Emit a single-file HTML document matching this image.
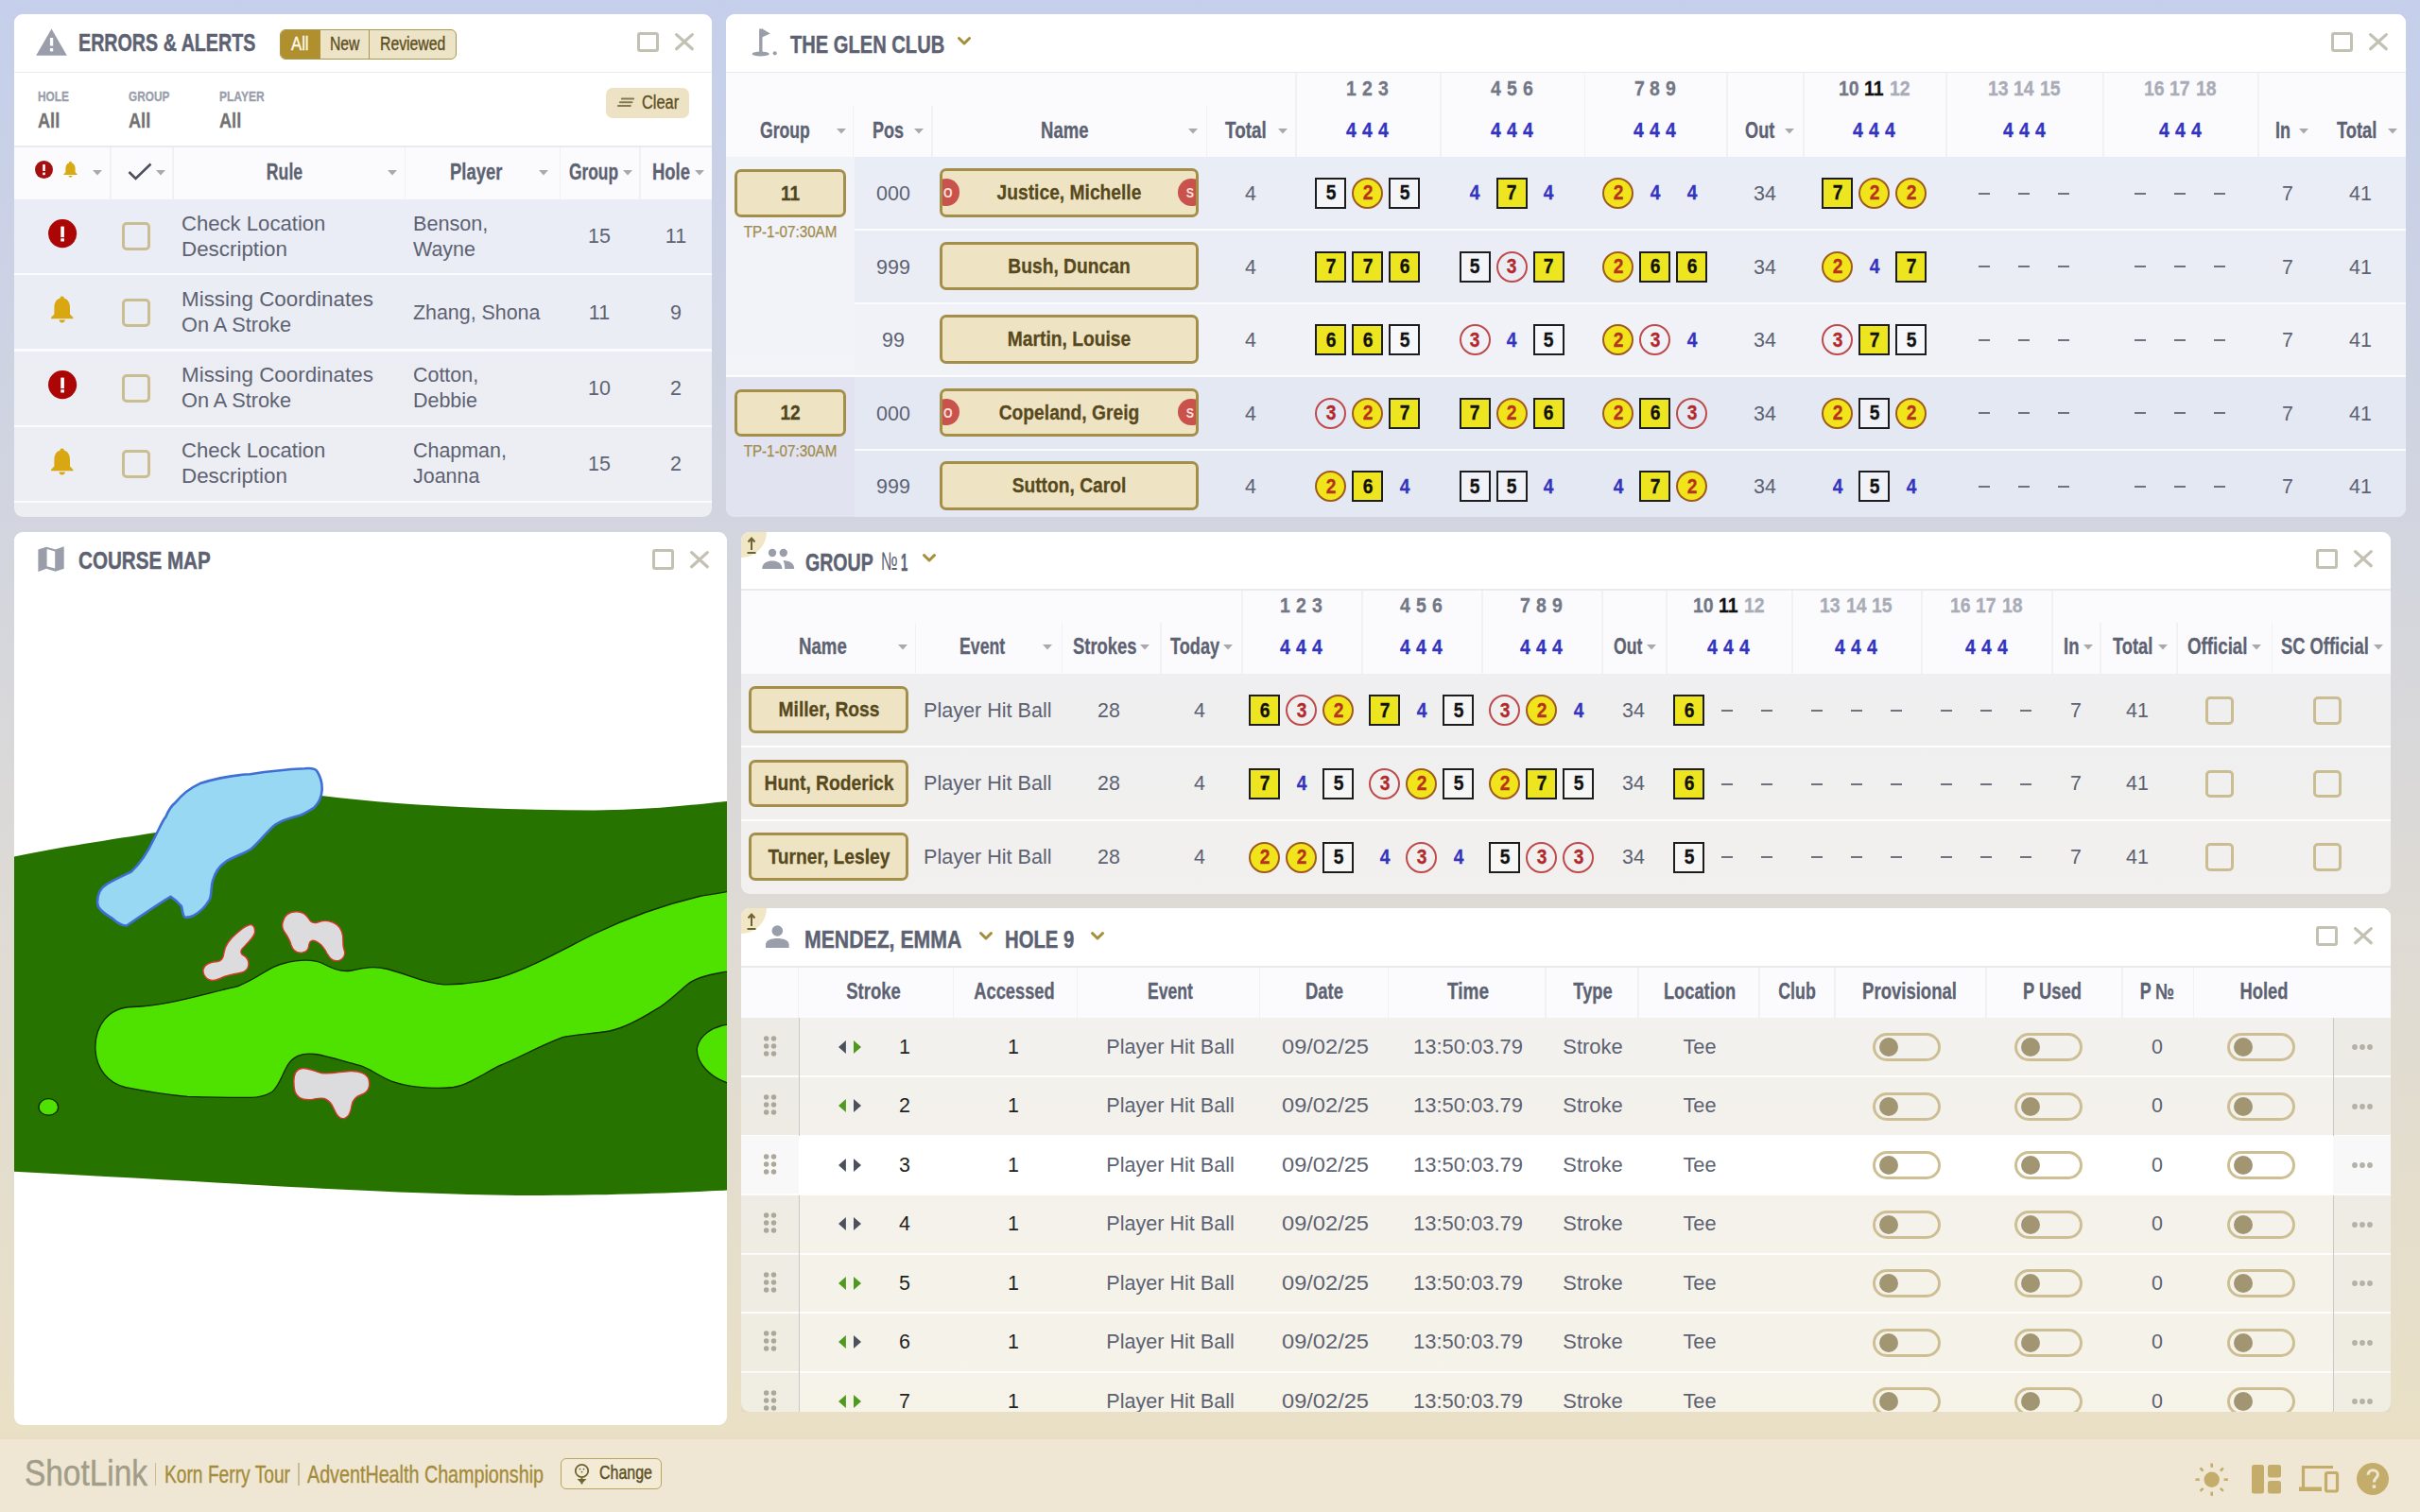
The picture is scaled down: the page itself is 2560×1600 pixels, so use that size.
<!DOCTYPE html>
<html><head><meta charset="utf-8"><title>ShotLink</title>
<style>
html,body{margin:0;padding:0;}
body{width:2560px;height:1600px;position:relative;overflow:hidden;font-family:"Liberation Sans",sans-serif;
background:linear-gradient(180deg,#c5cfeb 0px,#d2d5df 550px,#dfdbd4 1000px,#e9e0c6 1515px);}
.a{position:absolute;}
.t{position:absolute;white-space:nowrap;}
svg{overflow:visible;}
</style></head><body>
<div class="a" style="left:0.00px;top:1523.00px;width:2560.00px;height:77.00px;background:#efe7d3;"></div>
<div class="a" style="left:0.00px;top:1511.00px;width:2560.00px;height:12.00px;background:linear-gradient(180deg,rgba(233,224,198,0),#e9dec3);"></div>
<div class="a" style="left:15.00px;top:15.00px;width:738.00px;height:532.00px;border-radius:9px;background:rgba(255,255,255,0.6);"></div>
<div class="a" style="left:15.00px;top:15.00px;width:738.00px;height:62.00px;border-radius:9px 9px 0 0;background:#fff;"></div>
<div class="a" style="left:15.00px;top:75.50px;width:738.00px;height:2.00px;background:#e9eaee;"></div>
<svg class="a" style="left:37.70px;top:29.80px;" width="33" height="29" viewBox="0 0 33 29"><path d="M16.5 0.5 L32.8 28.7 L0.2 28.7 Z" fill="#9a9eaa"/><rect x="14.9" y="10" width="3.3" height="8.5" fill="#fff"/><rect x="14.9" y="21" width="3.3" height="3.4" fill="#fff"/></svg>
<div class="t" style="left:83.20px;transform-origin:0 0;top:32.40px;font-size:26.00px;line-height:26.00px;font-weight:700;-webkit-text-stroke:0.45px #5d6272;color:#5d6272;transform:scaleX(0.7570);">ERRORS &amp; ALERTS</div>
<div class="a" style="left:296.2px;top:30.6px;width:186.4px;height:32px;box-sizing:border-box;border:1.6px solid #a8974f;border-radius:6px;background:#ede3c6;overflow:hidden;"><div style="position:absolute;left:0;top:0;width:41.7px;height:100%;background:#b0902e;"></div><div style="position:absolute;left:92.6px;top:0;width:1.6px;height:100%;background:#a8974f;"></div></div>
<div class="t" style="left:308.20px;transform-origin:0 0;top:35.84px;font-size:20.30px;line-height:20.30px;color:#fffbe8;transform:scaleX(0.8245);-webkit-text-stroke:0.35px #fffbe8;">All</div>
<div class="t" style="left:348.70px;transform-origin:0 0;top:35.84px;font-size:20.30px;line-height:20.30px;color:#5b4d1e;transform:scaleX(0.7732);-webkit-text-stroke:0.35px #5b4d1e;">New</div>
<div class="t" style="left:402.00px;transform-origin:0 0;top:35.84px;font-size:20.30px;line-height:20.30px;color:#5b4d1e;transform:scaleX(0.7785);-webkit-text-stroke:0.35px #5b4d1e;">Reviewed</div>
<div class="a" style="left:674.30px;top:33.80px;width:22.30px;height:21.60px;border:3.2px solid #c3c1b1;border-radius:3px;box-sizing:border-box;"></div>
<svg class="a" style="left:713.90px;top:35.20px;" width="20" height="18.4" viewBox="0 0 20 18.4"><path d="M1.6 1.6 L18.3 16.8 M18.3 1.6 L1.6 16.8" stroke="#c3c1b1" stroke-width="3.2" stroke-linecap="round"/></svg>
<div class="a" style="left:15.00px;top:77.00px;width:738.00px;height:78.00px;background:#fff;"></div>
<div class="t" style="left:40.20px;transform-origin:0 0;top:94.28px;font-size:15.20px;line-height:15.20px;font-weight:700;-webkit-text-stroke:0.30px #9a9eab;color:#9a9eab;transform:scaleX(0.7816);">HOLE</div>
<div class="t" style="left:40.20px;transform-origin:0 0;top:116.97px;font-size:21.80px;line-height:21.80px;font-weight:700;-webkit-text-stroke:0.30px #717171;color:#717171;transform:scaleX(0.8328);">All</div>
<div class="t" style="left:135.70px;transform-origin:0 0;top:94.28px;font-size:15.20px;line-height:15.20px;font-weight:700;-webkit-text-stroke:0.30px #9a9eab;color:#9a9eab;transform:scaleX(0.7786);">GROUP</div>
<div class="t" style="left:135.70px;transform-origin:0 0;top:116.97px;font-size:21.80px;line-height:21.80px;font-weight:700;-webkit-text-stroke:0.30px #717171;color:#717171;transform:scaleX(0.8328);">All</div>
<div class="t" style="left:231.50px;transform-origin:0 0;top:94.28px;font-size:15.20px;line-height:15.20px;font-weight:700;-webkit-text-stroke:0.30px #9a9eab;color:#9a9eab;transform:scaleX(0.7916);">PLAYER</div>
<div class="t" style="left:231.50px;transform-origin:0 0;top:116.97px;font-size:21.80px;line-height:21.80px;font-weight:700;-webkit-text-stroke:0.30px #717171;color:#717171;transform:scaleX(0.8328);">All</div>
<div class="a" style="left:641.00px;top:93.40px;width:87.60px;height:31.40px;background:#ede3c4;border-radius:7px;"></div>
<svg class="a" style="left:650.00px;top:100.00px;" width="24" height="16" viewBox="0 0 24 16"><path d="M7.9 4.5 H20.1 M5.9 8.2 H18.5 M4 12 H16.8" stroke="#857850" stroke-width="2.1" stroke-linecap="round"/></svg>
<div class="t" style="left:679.30px;transform-origin:0 0;top:99.33px;font-size:19.50px;line-height:19.50px;color:#5c4f22;transform:scaleX(0.8400);-webkit-text-stroke:0.35px #5c4f22;">Clear</div>
<div class="a" style="left:15.00px;top:154.00px;width:738.00px;height:1.50px;background:#e9eaee;"></div>
<div class="a" style="left:15.00px;top:155.50px;width:738.00px;height:55.20px;background:#fbfbfd;"></div>
<div class="a" style="left:116.00px;top:155.50px;width:1.50px;height:55.20px;background:#f1f1f4;"></div>
<div class="a" style="left:182.00px;top:155.50px;width:1.50px;height:55.20px;background:#f1f1f4;"></div>
<div class="a" style="left:427.60px;top:155.50px;width:1.50px;height:55.20px;background:#f1f1f4;"></div>
<div class="a" style="left:591.60px;top:155.50px;width:1.50px;height:55.20px;background:#f1f1f4;"></div>
<div class="a" style="left:676.00px;top:155.50px;width:1.50px;height:55.20px;background:#f1f1f4;"></div>
<svg class="a" style="left:36.50px;top:169.50px;" width="19" height="19" viewBox="0 0 19 19"><circle cx="9.5" cy="9.5" r="9.5" fill="#a50f0f"/><rect x="8.2" y="4" width="2.6" height="7" fill="#fff"/><rect x="8.2" y="12.6" width="2.6" height="2.6" fill="#fff"/></svg>
<svg class="a" style="left:66.50px;top:170.00px;" width="15" height="18" viewBox="0 0 15 18"><path d="M7.5 0.8 C8.6 0.8 9 1.6 9 2.4 C11.6 3.2 12.6 5.5 12.6 8.3 L12.6 12.2 L14.6 14.3 L14.6 15 L0.4 15 L0.4 14.3 L2.4 12.2 L2.4 8.3 C2.4 5.5 3.4 3.2 6 2.4 C6 1.6 6.4 0.8 7.5 0.8 Z M5.6 16 L9.4 16 C9.4 17 8.6 17.6 7.5 17.6 C6.4 17.6 5.6 17 5.6 16 Z" fill="#d8a912"/></svg>
<svg class="a" style="left:97.80px;top:179.60px;" width="10" height="6" viewBox="0 0 10 6"><path d="M0 0 L10 0 L5 5.5 Z" fill="#a9a9ad"/></svg>
<svg class="a" style="left:134.70px;top:172.40px;" width="26" height="19" viewBox="0 0 26 19"><path d="M1.5 10 L8.5 17 L24.5 1.5" fill="none" stroke="#4c505c" stroke-width="2.6"/></svg>
<svg class="a" style="left:164.80px;top:179.60px;" width="10" height="6" viewBox="0 0 10 6"><path d="M0 0 L10 0 L5 5.5 Z" fill="#a9a9ad"/></svg>
<div class="t" style="left:-299.40px;width:1200px;text-align:center;transform-origin:600px 0;top:171.08px;font-size:23.20px;line-height:23.20px;font-weight:700;-webkit-text-stroke:0.30px #5d6272;color:#5d6272;transform:scaleX(0.7618);">Rule</div>
<svg class="a" style="left:409.90px;top:179.60px;" width="10" height="6" viewBox="0 0 10 6"><path d="M0 0 L10 0 L5 5.5 Z" fill="#a9a9ad"/></svg>
<div class="t" style="left:475.90px;transform-origin:0 0;top:171.08px;font-size:23.20px;line-height:23.20px;font-weight:700;-webkit-text-stroke:0.30px #5d6272;color:#5d6272;transform:scaleX(0.7953);">Player</div>
<svg class="a" style="left:570.30px;top:179.60px;" width="10" height="6" viewBox="0 0 10 6"><path d="M0 0 L10 0 L5 5.5 Z" fill="#a9a9ad"/></svg>
<div class="t" style="left:601.90px;transform-origin:0 0;top:171.08px;font-size:23.20px;line-height:23.20px;font-weight:700;-webkit-text-stroke:0.30px #5d6272;color:#5d6272;transform:scaleX(0.7487);">Group</div>
<svg class="a" style="left:659.00px;top:179.60px;" width="10" height="6" viewBox="0 0 10 6"><path d="M0 0 L10 0 L5 5.5 Z" fill="#a9a9ad"/></svg>
<div class="t" style="left:690.30px;transform-origin:0 0;top:171.08px;font-size:23.20px;line-height:23.20px;font-weight:700;-webkit-text-stroke:0.30px #5d6272;color:#5d6272;transform:scaleX(0.7936);">Hole</div>
<svg class="a" style="left:735.20px;top:179.60px;" width="10" height="6" viewBox="0 0 10 6"><path d="M0 0 L10 0 L5 5.5 Z" fill="#a9a9ad"/></svg>
<div class="a" style="left:15.00px;top:289.15px;width:738.00px;height:2.20px;background:#fbfcff;"></div>
<svg class="a" style="left:51.00px;top:231.60px;" width="30.2" height="30.2" viewBox="0 0 30.2 30.2"><circle cx="15.1" cy="15.1" r="15.1" fill="#ab0505"/><rect x="13.3" y="7.6" width="3.6" height="11.5" fill="#fff"/><rect x="13.3" y="20.3" width="3.6" height="3.2" fill="#fff"/></svg>
<div class="a" style="left:129.00px;top:235.32px;width:30.00px;height:30.00px;border:3px solid #cbbd92;border-radius:5px;box-sizing:border-box;"></div>
<div class="t" style="left:192.40px;transform-origin:0 0;top:224.62px;font-size:22.80px;line-height:22.80px;color:#5d6272;transform:scaleX(0.9697);">Check Location</div>
<div class="t" style="left:192.40px;transform-origin:0 0;top:251.62px;font-size:22.80px;line-height:22.80px;color:#5d6272;transform:scaleX(0.9812);">Description</div>
<div class="t" style="left:437.00px;transform-origin:0 0;top:224.62px;font-size:22.80px;line-height:22.80px;color:#5d6272;transform:scaleX(0.9490);">Benson,</div>
<div class="t" style="left:437.00px;transform-origin:0 0;top:251.62px;font-size:22.80px;line-height:22.80px;color:#5d6272;transform:scaleX(0.9400);">Wayne</div>
<div class="t" style="left:34.00px;width:1200px;text-align:center;transform-origin:600px 0;top:238.42px;font-size:22.80px;line-height:22.80px;color:#5d6272;transform:scaleX(0.9400);">15</div>
<div class="t" style="left:114.70px;width:1200px;text-align:center;transform-origin:600px 0;top:238.42px;font-size:22.80px;line-height:22.80px;color:#5d6272;transform:scaleX(0.9400);">11</div>
<div class="a" style="left:15.00px;top:369.40px;width:738.00px;height:2.20px;background:#fbfcff;"></div>
<svg class="a" style="left:53.40px;top:313.15px;" width="25.4" height="29.4" viewBox="0 0 25.4 29.4"><path d="M12.7 0.5 C14.3 0.5 15 1.6 15 2.8 C19.2 4 21 7.8 21 12.5 L21 19.5 L24.4 23 L24.4 24.2 L1 24.2 L1 23 L4.4 19.5 L4.4 12.5 C4.4 7.8 6.2 4 10.4 2.8 C10.4 1.6 11.1 0.5 12.7 0.5 Z M9.6 25.6 L15.8 25.6 C15.8 27.4 14.5 28.6 12.7 28.6 C10.9 28.6 9.6 27.4 9.6 25.6 Z" fill="#d8a711"/></svg>
<div class="a" style="left:129.00px;top:315.57px;width:30.00px;height:30.00px;border:3px solid #cbbd92;border-radius:5px;box-sizing:border-box;"></div>
<div class="t" style="left:192.40px;transform-origin:0 0;top:304.87px;font-size:22.80px;line-height:22.80px;color:#5d6272;transform:scaleX(0.9823);">Missing Coordinates</div>
<div class="t" style="left:192.40px;transform-origin:0 0;top:331.87px;font-size:22.80px;line-height:22.80px;color:#5d6272;transform:scaleX(0.9534);">On A Stroke</div>
<div class="t" style="left:437.00px;transform-origin:0 0;top:318.67px;font-size:22.80px;line-height:22.80px;color:#5d6272;transform:scaleX(0.9382);">Zhang, Shona</div>
<div class="t" style="left:34.00px;width:1200px;text-align:center;transform-origin:600px 0;top:318.67px;font-size:22.80px;line-height:22.80px;color:#5d6272;transform:scaleX(0.9400);">11</div>
<div class="t" style="left:114.70px;width:1200px;text-align:center;transform-origin:600px 0;top:318.67px;font-size:22.80px;line-height:22.80px;color:#5d6272;transform:scaleX(0.9400);">9</div>
<div class="a" style="left:15.00px;top:449.65px;width:738.00px;height:2.20px;background:#fbfcff;"></div>
<svg class="a" style="left:51.00px;top:392.10px;" width="30.2" height="30.2" viewBox="0 0 30.2 30.2"><circle cx="15.1" cy="15.1" r="15.1" fill="#ab0505"/><rect x="13.3" y="7.6" width="3.6" height="11.5" fill="#fff"/><rect x="13.3" y="20.3" width="3.6" height="3.2" fill="#fff"/></svg>
<div class="a" style="left:129.00px;top:395.82px;width:30.00px;height:30.00px;border:3px solid #cbbd92;border-radius:5px;box-sizing:border-box;"></div>
<div class="t" style="left:192.40px;transform-origin:0 0;top:385.12px;font-size:22.80px;line-height:22.80px;color:#5d6272;transform:scaleX(0.9823);">Missing Coordinates</div>
<div class="t" style="left:192.40px;transform-origin:0 0;top:412.12px;font-size:22.80px;line-height:22.80px;color:#5d6272;transform:scaleX(0.9534);">On A Stroke</div>
<div class="t" style="left:437.00px;transform-origin:0 0;top:385.12px;font-size:22.80px;line-height:22.80px;color:#5d6272;transform:scaleX(0.9400);">Cotton,</div>
<div class="t" style="left:437.00px;transform-origin:0 0;top:412.12px;font-size:22.80px;line-height:22.80px;color:#5d6272;transform:scaleX(0.9400);">Debbie</div>
<div class="t" style="left:34.00px;width:1200px;text-align:center;transform-origin:600px 0;top:398.92px;font-size:22.80px;line-height:22.80px;color:#5d6272;transform:scaleX(0.9400);">10</div>
<div class="t" style="left:114.70px;width:1200px;text-align:center;transform-origin:600px 0;top:398.92px;font-size:22.80px;line-height:22.80px;color:#5d6272;transform:scaleX(0.9400);">2</div>
<div class="a" style="left:15.00px;top:529.90px;width:738.00px;height:2.20px;background:#fbfcff;"></div>
<svg class="a" style="left:53.40px;top:473.65px;" width="25.4" height="29.4" viewBox="0 0 25.4 29.4"><path d="M12.7 0.5 C14.3 0.5 15 1.6 15 2.8 C19.2 4 21 7.8 21 12.5 L21 19.5 L24.4 23 L24.4 24.2 L1 24.2 L1 23 L4.4 19.5 L4.4 12.5 C4.4 7.8 6.2 4 10.4 2.8 C10.4 1.6 11.1 0.5 12.7 0.5 Z M9.6 25.6 L15.8 25.6 C15.8 27.4 14.5 28.6 12.7 28.6 C10.9 28.6 9.6 27.4 9.6 25.6 Z" fill="#d8a711"/></svg>
<div class="a" style="left:129.00px;top:476.07px;width:30.00px;height:30.00px;border:3px solid #cbbd92;border-radius:5px;box-sizing:border-box;"></div>
<div class="t" style="left:192.40px;transform-origin:0 0;top:465.37px;font-size:22.80px;line-height:22.80px;color:#5d6272;transform:scaleX(0.9697);">Check Location</div>
<div class="t" style="left:192.40px;transform-origin:0 0;top:492.37px;font-size:22.80px;line-height:22.80px;color:#5d6272;transform:scaleX(0.9812);">Description</div>
<div class="t" style="left:437.00px;transform-origin:0 0;top:465.37px;font-size:22.80px;line-height:22.80px;color:#5d6272;transform:scaleX(0.9400);">Chapman,</div>
<div class="t" style="left:437.00px;transform-origin:0 0;top:492.37px;font-size:22.80px;line-height:22.80px;color:#5d6272;transform:scaleX(0.9400);">Joanna</div>
<div class="t" style="left:34.00px;width:1200px;text-align:center;transform-origin:600px 0;top:479.17px;font-size:22.80px;line-height:22.80px;color:#5d6272;transform:scaleX(0.9400);">15</div>
<div class="t" style="left:114.70px;width:1200px;text-align:center;transform-origin:600px 0;top:479.17px;font-size:22.80px;line-height:22.80px;color:#5d6272;transform:scaleX(0.9400);">2</div>
<div class="a" style="left:768.00px;top:15.00px;width:1777.00px;height:532.00px;border-radius:9px;background:rgba(255,255,255,0.6);"></div>
<div class="a" style="left:768.00px;top:15.00px;width:1777.00px;height:62.00px;border-radius:9px 9px 0 0;background:#fff;"></div>
<div class="a" style="left:768.00px;top:75.50px;width:1777.00px;height:2.00px;background:#e9eaee;"></div>
<svg class="a" style="left:795.70px;top:30.40px;" width="26" height="30" viewBox="0 0 26 30"><path d="M8.8 0.5 L8.8 26" stroke="#9a9eaa" stroke-width="3.4"/><path d="M10 0.3 L18.8 5.6 L10 9.4 Z" fill="#9a9eaa"/><ellipse cx="8.7" cy="27" rx="9.1" ry="2.6" fill="#9a9eaa"/><circle cx="23.7" cy="26.3" r="2.1" fill="#9a9eaa"/></svg>
<div class="t" style="left:836.20px;transform-origin:0 0;top:34.20px;font-size:26.00px;line-height:26.00px;font-weight:700;-webkit-text-stroke:0.45px #5d6272;color:#5d6272;transform:scaleX(0.7739);">THE GLEN CLUB</div>
<svg class="a" style="left:1012.60px;top:39.00px;" width="14" height="9" viewBox="0 0 14 9"><path d="M1.5 1.5 L7 7 L12.5 1.5" fill="none" stroke="#a48e3c" stroke-width="3" stroke-linecap="round" stroke-linejoin="round"/></svg>
<div class="a" style="left:2466.30px;top:33.80px;width:22.30px;height:21.60px;border:3.2px solid #c3c1b1;border-radius:3px;box-sizing:border-box;"></div>
<svg class="a" style="left:2505.90px;top:35.20px;" width="20" height="18.4" viewBox="0 0 20 18.4"><path d="M1.6 1.6 L18.3 16.8 M18.3 1.6 L1.6 16.8" stroke="#c3c1b1" stroke-width="3.2" stroke-linecap="round"/></svg>
<div class="a" style="left:768.00px;top:77.00px;width:1777.00px;height:89.00px;background:#fbfbfd;"></div>
<div class="a" style="left:901.50px;top:112.00px;width:1.50px;height:54.00px;background:#f1f1f4;"></div>
<div class="a" style="left:985.00px;top:112.00px;width:1.50px;height:54.00px;background:#f1f1f4;"></div>
<div class="a" style="left:1275.90px;top:112.00px;width:1.50px;height:54.00px;background:#f1f1f4;"></div>
<div class="a" style="left:1370.00px;top:77.00px;width:1.50px;height:89.00px;background:#f1f1f4;"></div>
<div class="a" style="left:1523.00px;top:77.00px;width:1.50px;height:89.00px;background:#f1f1f4;"></div>
<div class="a" style="left:1675.50px;top:77.00px;width:1.50px;height:89.00px;background:#f1f1f4;"></div>
<div class="a" style="left:1826.00px;top:77.00px;width:1.50px;height:89.00px;background:#f1f1f4;"></div>
<div class="a" style="left:1907.00px;top:77.00px;width:1.50px;height:89.00px;background:#f1f1f4;"></div>
<div class="a" style="left:2058.00px;top:77.00px;width:1.50px;height:89.00px;background:#f1f1f4;"></div>
<div class="a" style="left:2224.00px;top:77.00px;width:1.50px;height:89.00px;background:#f1f1f4;"></div>
<div class="a" style="left:2388.00px;top:77.00px;width:1.50px;height:89.00px;background:#f1f1f4;"></div>
<div class="t" style="left:803.70px;transform-origin:0 0;top:126.78px;font-size:23.20px;line-height:23.20px;font-weight:700;-webkit-text-stroke:0.30px #5d6272;color:#5d6272;transform:scaleX(0.7602);">Group</div>
<svg class="a" style="left:884.60px;top:135.50px;" width="10" height="6" viewBox="0 0 10 6"><path d="M0 0 L10 0 L5 5.5 Z" fill="#a9a9ad"/></svg>
<div class="t" style="left:922.70px;transform-origin:0 0;top:126.78px;font-size:23.20px;line-height:23.20px;font-weight:700;-webkit-text-stroke:0.30px #5d6272;color:#5d6272;transform:scaleX(0.7779);">Pos</div>
<svg class="a" style="left:967.20px;top:135.50px;" width="10" height="6" viewBox="0 0 10 6"><path d="M0 0 L10 0 L5 5.5 Z" fill="#a9a9ad"/></svg>
<div class="t" style="left:1100.50px;transform-origin:0 0;top:126.78px;font-size:23.20px;line-height:23.20px;font-weight:700;-webkit-text-stroke:0.30px #5d6272;color:#5d6272;transform:scaleX(0.7992);">Name</div>
<svg class="a" style="left:1257.00px;top:135.50px;" width="10" height="6" viewBox="0 0 10 6"><path d="M0 0 L10 0 L5 5.5 Z" fill="#a9a9ad"/></svg>
<div class="t" style="left:1295.70px;transform-origin:0 0;top:126.78px;font-size:23.20px;line-height:23.20px;font-weight:700;-webkit-text-stroke:0.30px #5d6272;color:#5d6272;transform:scaleX(0.8138);">Total</div>
<svg class="a" style="left:1351.60px;top:135.50px;" width="10" height="6" viewBox="0 0 10 6"><path d="M0 0 L10 0 L5 5.5 Z" fill="#a9a9ad"/></svg>
<div class="t" style="left:1846.00px;transform-origin:0 0;top:126.78px;font-size:23.20px;line-height:23.20px;font-weight:700;-webkit-text-stroke:0.30px #5d6272;color:#5d6272;transform:scaleX(0.7836);">Out</div>
<svg class="a" style="left:1888.00px;top:135.50px;" width="10" height="6" viewBox="0 0 10 6"><path d="M0 0 L10 0 L5 5.5 Z" fill="#a9a9ad"/></svg>
<div class="t" style="left:2407.00px;transform-origin:0 0;top:126.78px;font-size:23.20px;line-height:23.20px;font-weight:700;-webkit-text-stroke:0.30px #5d6272;color:#5d6272;transform:scaleX(0.7761);">In</div>
<svg class="a" style="left:2432.00px;top:135.50px;" width="10" height="6" viewBox="0 0 10 6"><path d="M0 0 L10 0 L5 5.5 Z" fill="#a9a9ad"/></svg>
<div class="t" style="left:2471.60px;transform-origin:0 0;top:126.78px;font-size:23.20px;line-height:23.20px;font-weight:700;-webkit-text-stroke:0.30px #5d6272;color:#5d6272;transform:scaleX(0.7896);">Total</div>
<svg class="a" style="left:2526.00px;top:135.50px;" width="10" height="6" viewBox="0 0 10 6"><path d="M0 0 L10 0 L5 5.5 Z" fill="#a9a9ad"/></svg>
<div class="t" style="left:1424.28px;transform-origin:0 0;top:83.44px;font-size:21.60px;line-height:21.60px;font-weight:700;-webkit-text-stroke:0.30px #737785;color:#737785;transform:scaleX(0.9000);">1</div>
<div class="t" style="left:1441.09px;transform-origin:0 0;top:83.44px;font-size:21.60px;line-height:21.60px;font-weight:700;-webkit-text-stroke:0.30px #737785;color:#737785;transform:scaleX(0.9000);">2</div>
<div class="t" style="left:1457.91px;transform-origin:0 0;top:83.44px;font-size:21.60px;line-height:21.60px;font-weight:700;-webkit-text-stroke:0.30px #737785;color:#737785;transform:scaleX(0.9000);">3</div>
<div class="t" style="left:1424.05px;transform-origin:0 0;top:127.30px;font-size:22.00px;line-height:22.00px;font-weight:700;-webkit-text-stroke:0.30px #3333bd;color:#3333bd;transform:scaleX(0.8800);">4</div>
<div class="t" style="left:1441.12px;transform-origin:0 0;top:127.30px;font-size:22.00px;line-height:22.00px;font-weight:700;-webkit-text-stroke:0.30px #3333bd;color:#3333bd;transform:scaleX(0.8800);">4</div>
<div class="t" style="left:1458.18px;transform-origin:0 0;top:127.30px;font-size:22.00px;line-height:22.00px;font-weight:700;-webkit-text-stroke:0.30px #3333bd;color:#3333bd;transform:scaleX(0.8800);">4</div>
<div class="t" style="left:1576.98px;transform-origin:0 0;top:83.44px;font-size:21.60px;line-height:21.60px;font-weight:700;-webkit-text-stroke:0.30px #737785;color:#737785;transform:scaleX(0.9000);">4</div>
<div class="t" style="left:1593.79px;transform-origin:0 0;top:83.44px;font-size:21.60px;line-height:21.60px;font-weight:700;-webkit-text-stroke:0.30px #737785;color:#737785;transform:scaleX(0.9000);">5</div>
<div class="t" style="left:1610.61px;transform-origin:0 0;top:83.44px;font-size:21.60px;line-height:21.60px;font-weight:700;-webkit-text-stroke:0.30px #737785;color:#737785;transform:scaleX(0.9000);">6</div>
<div class="t" style="left:1576.75px;transform-origin:0 0;top:127.30px;font-size:22.00px;line-height:22.00px;font-weight:700;-webkit-text-stroke:0.30px #3333bd;color:#3333bd;transform:scaleX(0.8800);">4</div>
<div class="t" style="left:1593.82px;transform-origin:0 0;top:127.30px;font-size:22.00px;line-height:22.00px;font-weight:700;-webkit-text-stroke:0.30px #3333bd;color:#3333bd;transform:scaleX(0.8800);">4</div>
<div class="t" style="left:1610.88px;transform-origin:0 0;top:127.30px;font-size:22.00px;line-height:22.00px;font-weight:700;-webkit-text-stroke:0.30px #3333bd;color:#3333bd;transform:scaleX(0.8800);">4</div>
<div class="t" style="left:1728.58px;transform-origin:0 0;top:83.44px;font-size:21.60px;line-height:21.60px;font-weight:700;-webkit-text-stroke:0.30px #737785;color:#737785;transform:scaleX(0.9000);">7</div>
<div class="t" style="left:1745.39px;transform-origin:0 0;top:83.44px;font-size:21.60px;line-height:21.60px;font-weight:700;-webkit-text-stroke:0.30px #737785;color:#737785;transform:scaleX(0.9000);">8</div>
<div class="t" style="left:1762.21px;transform-origin:0 0;top:83.44px;font-size:21.60px;line-height:21.60px;font-weight:700;-webkit-text-stroke:0.30px #737785;color:#737785;transform:scaleX(0.9000);">9</div>
<div class="t" style="left:1728.35px;transform-origin:0 0;top:127.30px;font-size:22.00px;line-height:22.00px;font-weight:700;-webkit-text-stroke:0.30px #3333bd;color:#3333bd;transform:scaleX(0.8800);">4</div>
<div class="t" style="left:1745.42px;transform-origin:0 0;top:127.30px;font-size:22.00px;line-height:22.00px;font-weight:700;-webkit-text-stroke:0.30px #3333bd;color:#3333bd;transform:scaleX(0.8800);">4</div>
<div class="t" style="left:1762.48px;transform-origin:0 0;top:127.30px;font-size:22.00px;line-height:22.00px;font-weight:700;-webkit-text-stroke:0.30px #3333bd;color:#3333bd;transform:scaleX(0.8800);">4</div>
<div class="t" style="left:1944.60px;transform-origin:0 0;top:83.44px;font-size:21.60px;line-height:21.60px;font-weight:700;-webkit-text-stroke:0.30px #737785;color:#737785;transform:scaleX(0.9000);">10</div>
<div class="t" style="left:1972.22px;transform-origin:0 0;top:83.44px;font-size:21.60px;line-height:21.60px;font-weight:700;-webkit-text-stroke:0.30px #111;color:#111;transform:scaleX(0.9000);">11</div>
<div class="t" style="left:1998.78px;transform-origin:0 0;top:83.44px;font-size:21.60px;line-height:21.60px;font-weight:700;-webkit-text-stroke:0.30px #a9acb6;color:#a9acb6;transform:scaleX(0.9000);">12</div>
<div class="t" style="left:1960.05px;transform-origin:0 0;top:127.30px;font-size:22.00px;line-height:22.00px;font-weight:700;-webkit-text-stroke:0.30px #3333bd;color:#3333bd;transform:scaleX(0.8800);">4</div>
<div class="t" style="left:1977.12px;transform-origin:0 0;top:127.30px;font-size:22.00px;line-height:22.00px;font-weight:700;-webkit-text-stroke:0.30px #3333bd;color:#3333bd;transform:scaleX(0.8800);">4</div>
<div class="t" style="left:1994.18px;transform-origin:0 0;top:127.30px;font-size:22.00px;line-height:22.00px;font-weight:700;-webkit-text-stroke:0.30px #3333bd;color:#3333bd;transform:scaleX(0.8800);">4</div>
<div class="t" style="left:2102.56px;transform-origin:0 0;top:83.44px;font-size:21.60px;line-height:21.60px;font-weight:700;-webkit-text-stroke:0.30px #a9acb6;color:#a9acb6;transform:scaleX(0.9000);">13</div>
<div class="t" style="left:2130.19px;transform-origin:0 0;top:83.44px;font-size:21.60px;line-height:21.60px;font-weight:700;-webkit-text-stroke:0.30px #a9acb6;color:#a9acb6;transform:scaleX(0.9000);">14</div>
<div class="t" style="left:2157.81px;transform-origin:0 0;top:83.44px;font-size:21.60px;line-height:21.60px;font-weight:700;-webkit-text-stroke:0.30px #a9acb6;color:#a9acb6;transform:scaleX(0.9000);">15</div>
<div class="t" style="left:2118.55px;transform-origin:0 0;top:127.30px;font-size:22.00px;line-height:22.00px;font-weight:700;-webkit-text-stroke:0.30px #3333bd;color:#3333bd;transform:scaleX(0.8800);">4</div>
<div class="t" style="left:2135.62px;transform-origin:0 0;top:127.30px;font-size:22.00px;line-height:22.00px;font-weight:700;-webkit-text-stroke:0.30px #3333bd;color:#3333bd;transform:scaleX(0.8800);">4</div>
<div class="t" style="left:2152.68px;transform-origin:0 0;top:127.30px;font-size:22.00px;line-height:22.00px;font-weight:700;-webkit-text-stroke:0.30px #3333bd;color:#3333bd;transform:scaleX(0.8800);">4</div>
<div class="t" style="left:2267.56px;transform-origin:0 0;top:83.44px;font-size:21.60px;line-height:21.60px;font-weight:700;-webkit-text-stroke:0.30px #a9acb6;color:#a9acb6;transform:scaleX(0.9000);">16</div>
<div class="t" style="left:2295.19px;transform-origin:0 0;top:83.44px;font-size:21.60px;line-height:21.60px;font-weight:700;-webkit-text-stroke:0.30px #a9acb6;color:#a9acb6;transform:scaleX(0.9000);">17</div>
<div class="t" style="left:2322.81px;transform-origin:0 0;top:83.44px;font-size:21.60px;line-height:21.60px;font-weight:700;-webkit-text-stroke:0.30px #a9acb6;color:#a9acb6;transform:scaleX(0.9000);">18</div>
<div class="t" style="left:2283.55px;transform-origin:0 0;top:127.30px;font-size:22.00px;line-height:22.00px;font-weight:700;-webkit-text-stroke:0.30px #3333bd;color:#3333bd;transform:scaleX(0.8800);">4</div>
<div class="t" style="left:2300.62px;transform-origin:0 0;top:127.30px;font-size:22.00px;line-height:22.00px;font-weight:700;-webkit-text-stroke:0.30px #3333bd;color:#3333bd;transform:scaleX(0.8800);">4</div>
<div class="t" style="left:2317.68px;transform-origin:0 0;top:127.30px;font-size:22.00px;line-height:22.00px;font-weight:700;-webkit-text-stroke:0.30px #3333bd;color:#3333bd;transform:scaleX(0.8800);">4</div>
<div class="a" style="left:768.00px;top:166.00px;width:136.00px;height:231.50px;background:rgba(255,255,255,0.35);"></div>
<div class="a" style="left:904.00px;top:320.50px;width:1641.00px;height:77.00px;background:rgba(255,255,255,0.30);"></div>
<div class="a" style="left:904.00px;top:398.50px;width:1641.00px;height:148.50px;background:#e4e8f3;border-radius:0 0 9px 0;"></div>
<div class="a" style="left:768.00px;top:398.50px;width:136.00px;height:148.50px;background:#e1e4f0;border-radius:0 0 0 9px;"></div>
<div class="a" style="left:904.00px;top:242.00px;width:1641.00px;height:2.20px;background:#fbfcff;"></div>
<div class="t" style="left:345.00px;width:1200px;text-align:center;transform-origin:600px 0;top:193.37px;font-size:22.80px;line-height:22.80px;color:#5d6272;transform:scaleX(0.9400);">000</div>
<div class="a" style="left:993.70px;top:178.20px;width:274.30px;height:51.60px;box-sizing:border-box;border:3px solid #a48f4a;border-radius:7px;background:#eee4c4;overflow:hidden;"><div style="position:absolute;left:-10px;top:8px;width:28.5px;height:28.5px;border-radius:50%;background:#c9524c;"></div><div class="t" style="left:1.6px;top:15.1px;font-size:15px;line-height:15px;font-weight:700;color:#ffe0da;transform:scaleX(0.82);transform-origin:0 0">O</div><div style="position:absolute;right:-10px;top:8px;width:28.5px;height:28.5px;border-radius:50%;background:#c9524c;"></div><div class="t" style="right:2.2px;top:15.1px;font-size:15px;line-height:15px;font-weight:700;color:#ffe0da;transform:scaleX(0.82);transform-origin:100% 0">S</div></div>
<div class="t" style="left:530.85px;width:1200px;text-align:center;transform-origin:600px 0;top:192.13px;font-size:22.90px;line-height:22.90px;font-weight:700;-webkit-text-stroke:0.30px #57491c;color:#57491c;transform:scaleX(0.8400);">Justice, Michelle</div>
<div class="t" style="left:723.00px;width:1200px;text-align:center;transform-origin:600px 0;top:193.37px;font-size:22.80px;line-height:22.80px;color:#5d6272;transform:scaleX(0.9400);">4</div>
<div class="a" style="left:1391.00px;top:188.25px;width:33.00px;height:33.00px;border:2px solid #1d1d1f;background:rgba(255,255,255,.45);box-sizing:border-box;"></div>
<div class="t" style="left:807.50px;width:1200px;text-align:center;transform-origin:600px 0;top:193.49px;font-size:22.30px;line-height:22.30px;font-weight:700;-webkit-text-stroke:0.30px #111;color:#111;transform:scaleX(0.8600);">5</div>
<div class="a" style="left:1430.00px;top:188.25px;width:33.00px;height:33.00px;border:2px solid #9f5a20;background:#f1e41b;border-radius:50%;box-sizing:border-box;"></div>
<div class="t" style="left:846.50px;width:1200px;text-align:center;transform-origin:600px 0;top:193.49px;font-size:22.30px;line-height:22.30px;font-weight:700;-webkit-text-stroke:0.30px #b5331f;color:#b5331f;transform:scaleX(0.8600);">2</div>
<div class="a" style="left:1469.00px;top:188.25px;width:33.00px;height:33.00px;border:2px solid #1d1d1f;background:rgba(255,255,255,.45);box-sizing:border-box;"></div>
<div class="t" style="left:885.50px;width:1200px;text-align:center;transform-origin:600px 0;top:193.49px;font-size:22.30px;line-height:22.30px;font-weight:700;-webkit-text-stroke:0.30px #111;color:#111;transform:scaleX(0.8600);">5</div>
<div class="t" style="left:960.20px;width:1200px;text-align:center;transform-origin:600px 0;top:193.49px;font-size:22.30px;line-height:22.30px;font-weight:700;-webkit-text-stroke:0.30px #3333bd;color:#3333bd;transform:scaleX(0.8600);">4</div>
<div class="a" style="left:1582.70px;top:188.25px;width:33.00px;height:33.00px;border:2px solid #1d1d1f;background:#ece51f;box-sizing:border-box;"></div>
<div class="t" style="left:999.20px;width:1200px;text-align:center;transform-origin:600px 0;top:193.49px;font-size:22.30px;line-height:22.30px;font-weight:700;-webkit-text-stroke:0.30px #111;color:#111;transform:scaleX(0.8600);">7</div>
<div class="t" style="left:1038.20px;width:1200px;text-align:center;transform-origin:600px 0;top:193.49px;font-size:22.30px;line-height:22.30px;font-weight:700;-webkit-text-stroke:0.30px #3333bd;color:#3333bd;transform:scaleX(0.8600);">4</div>
<div class="a" style="left:1695.30px;top:188.25px;width:33.00px;height:33.00px;border:2px solid #9f5a20;background:#f1e41b;border-radius:50%;box-sizing:border-box;"></div>
<div class="t" style="left:1111.80px;width:1200px;text-align:center;transform-origin:600px 0;top:193.49px;font-size:22.30px;line-height:22.30px;font-weight:700;-webkit-text-stroke:0.30px #b5331f;color:#b5331f;transform:scaleX(0.8600);">2</div>
<div class="t" style="left:1150.80px;width:1200px;text-align:center;transform-origin:600px 0;top:193.49px;font-size:22.30px;line-height:22.30px;font-weight:700;-webkit-text-stroke:0.30px #3333bd;color:#3333bd;transform:scaleX(0.8600);">4</div>
<div class="t" style="left:1189.80px;width:1200px;text-align:center;transform-origin:600px 0;top:193.49px;font-size:22.30px;line-height:22.30px;font-weight:700;-webkit-text-stroke:0.30px #3333bd;color:#3333bd;transform:scaleX(0.8600);">4</div>
<div class="a" style="left:1927.00px;top:188.25px;width:33.00px;height:33.00px;border:2px solid #1d1d1f;background:#ece51f;box-sizing:border-box;"></div>
<div class="t" style="left:1343.50px;width:1200px;text-align:center;transform-origin:600px 0;top:193.49px;font-size:22.30px;line-height:22.30px;font-weight:700;-webkit-text-stroke:0.30px #111;color:#111;transform:scaleX(0.8600);">7</div>
<div class="a" style="left:1966.00px;top:188.25px;width:33.00px;height:33.00px;border:2px solid #9f5a20;background:#f1e41b;border-radius:50%;box-sizing:border-box;"></div>
<div class="t" style="left:1382.50px;width:1200px;text-align:center;transform-origin:600px 0;top:193.49px;font-size:22.30px;line-height:22.30px;font-weight:700;-webkit-text-stroke:0.30px #b5331f;color:#b5331f;transform:scaleX(0.8600);">2</div>
<div class="a" style="left:2005.00px;top:188.25px;width:33.00px;height:33.00px;border:2px solid #9f5a20;background:#f1e41b;border-radius:50%;box-sizing:border-box;"></div>
<div class="t" style="left:1421.50px;width:1200px;text-align:center;transform-origin:600px 0;top:193.49px;font-size:22.30px;line-height:22.30px;font-weight:700;-webkit-text-stroke:0.30px #b5331f;color:#b5331f;transform:scaleX(0.8600);">2</div>
<div class="a" style="left:2093.00px;top:204.00px;width:12.00px;height:2.00px;background:#6f7380;"></div>
<div class="a" style="left:2135.00px;top:204.00px;width:12.00px;height:2.00px;background:#6f7380;"></div>
<div class="a" style="left:2177.00px;top:204.00px;width:12.00px;height:2.00px;background:#6f7380;"></div>
<div class="a" style="left:2258.00px;top:204.00px;width:12.00px;height:2.00px;background:#6f7380;"></div>
<div class="a" style="left:2300.00px;top:204.00px;width:12.00px;height:2.00px;background:#6f7380;"></div>
<div class="a" style="left:2342.00px;top:204.00px;width:12.00px;height:2.00px;background:#6f7380;"></div>
<div class="t" style="left:1267.00px;width:1200px;text-align:center;transform-origin:600px 0;top:193.37px;font-size:22.80px;line-height:22.80px;color:#5d6272;transform:scaleX(0.9400);">34</div>
<div class="t" style="left:1819.50px;width:1200px;text-align:center;transform-origin:600px 0;top:193.37px;font-size:22.80px;line-height:22.80px;color:#5d6272;transform:scaleX(0.9400);">7</div>
<div class="t" style="left:1896.70px;width:1200px;text-align:center;transform-origin:600px 0;top:193.37px;font-size:22.80px;line-height:22.80px;color:#5d6272;transform:scaleX(0.9400);">41</div>
<div class="a" style="left:904.00px;top:319.50px;width:1641.00px;height:2.20px;background:#fbfcff;"></div>
<div class="t" style="left:345.00px;width:1200px;text-align:center;transform-origin:600px 0;top:270.87px;font-size:22.80px;line-height:22.80px;color:#5d6272;transform:scaleX(0.9400);">999</div>
<div class="a" style="left:993.70px;top:255.70px;width:274.30px;height:51.60px;box-sizing:border-box;border:3px solid #a48f4a;border-radius:7px;background:#eee4c4;overflow:hidden;"></div>
<div class="t" style="left:530.85px;width:1200px;text-align:center;transform-origin:600px 0;top:269.64px;font-size:22.90px;line-height:22.90px;font-weight:700;-webkit-text-stroke:0.30px #57491c;color:#57491c;transform:scaleX(0.8400);">Bush, Duncan</div>
<div class="t" style="left:723.00px;width:1200px;text-align:center;transform-origin:600px 0;top:270.87px;font-size:22.80px;line-height:22.80px;color:#5d6272;transform:scaleX(0.9400);">4</div>
<div class="a" style="left:1391.00px;top:265.75px;width:33.00px;height:33.00px;border:2px solid #1d1d1f;background:#ece51f;box-sizing:border-box;"></div>
<div class="t" style="left:807.50px;width:1200px;text-align:center;transform-origin:600px 0;top:271.00px;font-size:22.30px;line-height:22.30px;font-weight:700;-webkit-text-stroke:0.30px #111;color:#111;transform:scaleX(0.8600);">7</div>
<div class="a" style="left:1430.00px;top:265.75px;width:33.00px;height:33.00px;border:2px solid #1d1d1f;background:#ece51f;box-sizing:border-box;"></div>
<div class="t" style="left:846.50px;width:1200px;text-align:center;transform-origin:600px 0;top:271.00px;font-size:22.30px;line-height:22.30px;font-weight:700;-webkit-text-stroke:0.30px #111;color:#111;transform:scaleX(0.8600);">7</div>
<div class="a" style="left:1469.00px;top:265.75px;width:33.00px;height:33.00px;border:2px solid #1d1d1f;background:#ece51f;box-sizing:border-box;"></div>
<div class="t" style="left:885.50px;width:1200px;text-align:center;transform-origin:600px 0;top:271.00px;font-size:22.30px;line-height:22.30px;font-weight:700;-webkit-text-stroke:0.30px #111;color:#111;transform:scaleX(0.8600);">6</div>
<div class="a" style="left:1543.70px;top:265.75px;width:33.00px;height:33.00px;border:2px solid #1d1d1f;background:rgba(255,255,255,.45);box-sizing:border-box;"></div>
<div class="t" style="left:960.20px;width:1200px;text-align:center;transform-origin:600px 0;top:271.00px;font-size:22.30px;line-height:22.30px;font-weight:700;-webkit-text-stroke:0.30px #111;color:#111;transform:scaleX(0.8600);">5</div>
<div class="a" style="left:1582.70px;top:265.75px;width:33.00px;height:33.00px;border:2px solid #c04a4b;border-radius:50%;box-sizing:border-box;"></div>
<div class="t" style="left:999.20px;width:1200px;text-align:center;transform-origin:600px 0;top:271.00px;font-size:22.30px;line-height:22.30px;font-weight:700;-webkit-text-stroke:0.30px #b3282a;color:#b3282a;transform:scaleX(0.8600);">3</div>
<div class="a" style="left:1621.70px;top:265.75px;width:33.00px;height:33.00px;border:2px solid #1d1d1f;background:#ece51f;box-sizing:border-box;"></div>
<div class="t" style="left:1038.20px;width:1200px;text-align:center;transform-origin:600px 0;top:271.00px;font-size:22.30px;line-height:22.30px;font-weight:700;-webkit-text-stroke:0.30px #111;color:#111;transform:scaleX(0.8600);">7</div>
<div class="a" style="left:1695.30px;top:265.75px;width:33.00px;height:33.00px;border:2px solid #9f5a20;background:#f1e41b;border-radius:50%;box-sizing:border-box;"></div>
<div class="t" style="left:1111.80px;width:1200px;text-align:center;transform-origin:600px 0;top:271.00px;font-size:22.30px;line-height:22.30px;font-weight:700;-webkit-text-stroke:0.30px #b5331f;color:#b5331f;transform:scaleX(0.8600);">2</div>
<div class="a" style="left:1734.30px;top:265.75px;width:33.00px;height:33.00px;border:2px solid #1d1d1f;background:#ece51f;box-sizing:border-box;"></div>
<div class="t" style="left:1150.80px;width:1200px;text-align:center;transform-origin:600px 0;top:271.00px;font-size:22.30px;line-height:22.30px;font-weight:700;-webkit-text-stroke:0.30px #111;color:#111;transform:scaleX(0.8600);">6</div>
<div class="a" style="left:1773.30px;top:265.75px;width:33.00px;height:33.00px;border:2px solid #1d1d1f;background:#ece51f;box-sizing:border-box;"></div>
<div class="t" style="left:1189.80px;width:1200px;text-align:center;transform-origin:600px 0;top:271.00px;font-size:22.30px;line-height:22.30px;font-weight:700;-webkit-text-stroke:0.30px #111;color:#111;transform:scaleX(0.8600);">6</div>
<div class="a" style="left:1927.00px;top:265.75px;width:33.00px;height:33.00px;border:2px solid #9f5a20;background:#f1e41b;border-radius:50%;box-sizing:border-box;"></div>
<div class="t" style="left:1343.50px;width:1200px;text-align:center;transform-origin:600px 0;top:271.00px;font-size:22.30px;line-height:22.30px;font-weight:700;-webkit-text-stroke:0.30px #b5331f;color:#b5331f;transform:scaleX(0.8600);">2</div>
<div class="t" style="left:1382.50px;width:1200px;text-align:center;transform-origin:600px 0;top:271.00px;font-size:22.30px;line-height:22.30px;font-weight:700;-webkit-text-stroke:0.30px #3333bd;color:#3333bd;transform:scaleX(0.8600);">4</div>
<div class="a" style="left:2005.00px;top:265.75px;width:33.00px;height:33.00px;border:2px solid #1d1d1f;background:#ece51f;box-sizing:border-box;"></div>
<div class="t" style="left:1421.50px;width:1200px;text-align:center;transform-origin:600px 0;top:271.00px;font-size:22.30px;line-height:22.30px;font-weight:700;-webkit-text-stroke:0.30px #111;color:#111;transform:scaleX(0.8600);">7</div>
<div class="a" style="left:2093.00px;top:281.00px;width:12.00px;height:2.00px;background:#6f7380;"></div>
<div class="a" style="left:2135.00px;top:281.00px;width:12.00px;height:2.00px;background:#6f7380;"></div>
<div class="a" style="left:2177.00px;top:281.00px;width:12.00px;height:2.00px;background:#6f7380;"></div>
<div class="a" style="left:2258.00px;top:281.00px;width:12.00px;height:2.00px;background:#6f7380;"></div>
<div class="a" style="left:2300.00px;top:281.00px;width:12.00px;height:2.00px;background:#6f7380;"></div>
<div class="a" style="left:2342.00px;top:281.00px;width:12.00px;height:2.00px;background:#6f7380;"></div>
<div class="t" style="left:1267.00px;width:1200px;text-align:center;transform-origin:600px 0;top:270.87px;font-size:22.80px;line-height:22.80px;color:#5d6272;transform:scaleX(0.9400);">34</div>
<div class="t" style="left:1819.50px;width:1200px;text-align:center;transform-origin:600px 0;top:270.87px;font-size:22.80px;line-height:22.80px;color:#5d6272;transform:scaleX(0.9400);">7</div>
<div class="t" style="left:1896.70px;width:1200px;text-align:center;transform-origin:600px 0;top:270.87px;font-size:22.80px;line-height:22.80px;color:#5d6272;transform:scaleX(0.9400);">41</div>
<div class="a" style="left:768.00px;top:397.00px;width:1777.00px;height:2.20px;background:#fbfcff;"></div>
<div class="t" style="left:345.00px;width:1200px;text-align:center;transform-origin:600px 0;top:348.37px;font-size:22.80px;line-height:22.80px;color:#5d6272;transform:scaleX(0.9400);">99</div>
<div class="a" style="left:993.70px;top:333.20px;width:274.30px;height:51.60px;box-sizing:border-box;border:3px solid #a48f4a;border-radius:7px;background:#eee4c4;overflow:hidden;"></div>
<div class="t" style="left:530.85px;width:1200px;text-align:center;transform-origin:600px 0;top:347.14px;font-size:22.90px;line-height:22.90px;font-weight:700;-webkit-text-stroke:0.30px #57491c;color:#57491c;transform:scaleX(0.8400);">Martin, Louise</div>
<div class="t" style="left:723.00px;width:1200px;text-align:center;transform-origin:600px 0;top:348.37px;font-size:22.80px;line-height:22.80px;color:#5d6272;transform:scaleX(0.9400);">4</div>
<div class="a" style="left:1391.00px;top:343.25px;width:33.00px;height:33.00px;border:2px solid #1d1d1f;background:#ece51f;box-sizing:border-box;"></div>
<div class="t" style="left:807.50px;width:1200px;text-align:center;transform-origin:600px 0;top:348.50px;font-size:22.30px;line-height:22.30px;font-weight:700;-webkit-text-stroke:0.30px #111;color:#111;transform:scaleX(0.8600);">6</div>
<div class="a" style="left:1430.00px;top:343.25px;width:33.00px;height:33.00px;border:2px solid #1d1d1f;background:#ece51f;box-sizing:border-box;"></div>
<div class="t" style="left:846.50px;width:1200px;text-align:center;transform-origin:600px 0;top:348.50px;font-size:22.30px;line-height:22.30px;font-weight:700;-webkit-text-stroke:0.30px #111;color:#111;transform:scaleX(0.8600);">6</div>
<div class="a" style="left:1469.00px;top:343.25px;width:33.00px;height:33.00px;border:2px solid #1d1d1f;background:rgba(255,255,255,.45);box-sizing:border-box;"></div>
<div class="t" style="left:885.50px;width:1200px;text-align:center;transform-origin:600px 0;top:348.50px;font-size:22.30px;line-height:22.30px;font-weight:700;-webkit-text-stroke:0.30px #111;color:#111;transform:scaleX(0.8600);">5</div>
<div class="a" style="left:1543.70px;top:343.25px;width:33.00px;height:33.00px;border:2px solid #c04a4b;border-radius:50%;box-sizing:border-box;"></div>
<div class="t" style="left:960.20px;width:1200px;text-align:center;transform-origin:600px 0;top:348.50px;font-size:22.30px;line-height:22.30px;font-weight:700;-webkit-text-stroke:0.30px #b3282a;color:#b3282a;transform:scaleX(0.8600);">3</div>
<div class="t" style="left:999.20px;width:1200px;text-align:center;transform-origin:600px 0;top:348.50px;font-size:22.30px;line-height:22.30px;font-weight:700;-webkit-text-stroke:0.30px #3333bd;color:#3333bd;transform:scaleX(0.8600);">4</div>
<div class="a" style="left:1621.70px;top:343.25px;width:33.00px;height:33.00px;border:2px solid #1d1d1f;background:rgba(255,255,255,.45);box-sizing:border-box;"></div>
<div class="t" style="left:1038.20px;width:1200px;text-align:center;transform-origin:600px 0;top:348.50px;font-size:22.30px;line-height:22.30px;font-weight:700;-webkit-text-stroke:0.30px #111;color:#111;transform:scaleX(0.8600);">5</div>
<div class="a" style="left:1695.30px;top:343.25px;width:33.00px;height:33.00px;border:2px solid #9f5a20;background:#f1e41b;border-radius:50%;box-sizing:border-box;"></div>
<div class="t" style="left:1111.80px;width:1200px;text-align:center;transform-origin:600px 0;top:348.50px;font-size:22.30px;line-height:22.30px;font-weight:700;-webkit-text-stroke:0.30px #b5331f;color:#b5331f;transform:scaleX(0.8600);">2</div>
<div class="a" style="left:1734.30px;top:343.25px;width:33.00px;height:33.00px;border:2px solid #c04a4b;border-radius:50%;box-sizing:border-box;"></div>
<div class="t" style="left:1150.80px;width:1200px;text-align:center;transform-origin:600px 0;top:348.50px;font-size:22.30px;line-height:22.30px;font-weight:700;-webkit-text-stroke:0.30px #b3282a;color:#b3282a;transform:scaleX(0.8600);">3</div>
<div class="t" style="left:1189.80px;width:1200px;text-align:center;transform-origin:600px 0;top:348.50px;font-size:22.30px;line-height:22.30px;font-weight:700;-webkit-text-stroke:0.30px #3333bd;color:#3333bd;transform:scaleX(0.8600);">4</div>
<div class="a" style="left:1927.00px;top:343.25px;width:33.00px;height:33.00px;border:2px solid #c04a4b;border-radius:50%;box-sizing:border-box;"></div>
<div class="t" style="left:1343.50px;width:1200px;text-align:center;transform-origin:600px 0;top:348.50px;font-size:22.30px;line-height:22.30px;font-weight:700;-webkit-text-stroke:0.30px #b3282a;color:#b3282a;transform:scaleX(0.8600);">3</div>
<div class="a" style="left:1966.00px;top:343.25px;width:33.00px;height:33.00px;border:2px solid #1d1d1f;background:#ece51f;box-sizing:border-box;"></div>
<div class="t" style="left:1382.50px;width:1200px;text-align:center;transform-origin:600px 0;top:348.50px;font-size:22.30px;line-height:22.30px;font-weight:700;-webkit-text-stroke:0.30px #111;color:#111;transform:scaleX(0.8600);">7</div>
<div class="a" style="left:2005.00px;top:343.25px;width:33.00px;height:33.00px;border:2px solid #1d1d1f;background:rgba(255,255,255,.45);box-sizing:border-box;"></div>
<div class="t" style="left:1421.50px;width:1200px;text-align:center;transform-origin:600px 0;top:348.50px;font-size:22.30px;line-height:22.30px;font-weight:700;-webkit-text-stroke:0.30px #111;color:#111;transform:scaleX(0.8600);">5</div>
<div class="a" style="left:2093.00px;top:359.00px;width:12.00px;height:2.00px;background:#6f7380;"></div>
<div class="a" style="left:2135.00px;top:359.00px;width:12.00px;height:2.00px;background:#6f7380;"></div>
<div class="a" style="left:2177.00px;top:359.00px;width:12.00px;height:2.00px;background:#6f7380;"></div>
<div class="a" style="left:2258.00px;top:359.00px;width:12.00px;height:2.00px;background:#6f7380;"></div>
<div class="a" style="left:2300.00px;top:359.00px;width:12.00px;height:2.00px;background:#6f7380;"></div>
<div class="a" style="left:2342.00px;top:359.00px;width:12.00px;height:2.00px;background:#6f7380;"></div>
<div class="t" style="left:1267.00px;width:1200px;text-align:center;transform-origin:600px 0;top:348.37px;font-size:22.80px;line-height:22.80px;color:#5d6272;transform:scaleX(0.9400);">34</div>
<div class="t" style="left:1819.50px;width:1200px;text-align:center;transform-origin:600px 0;top:348.37px;font-size:22.80px;line-height:22.80px;color:#5d6272;transform:scaleX(0.9400);">7</div>
<div class="t" style="left:1896.70px;width:1200px;text-align:center;transform-origin:600px 0;top:348.37px;font-size:22.80px;line-height:22.80px;color:#5d6272;transform:scaleX(0.9400);">41</div>
<div class="a" style="left:904.00px;top:474.50px;width:1641.00px;height:2.20px;background:#fbfcff;"></div>
<div class="t" style="left:345.00px;width:1200px;text-align:center;transform-origin:600px 0;top:425.87px;font-size:22.80px;line-height:22.80px;color:#5d6272;transform:scaleX(0.9400);">000</div>
<div class="a" style="left:993.70px;top:410.70px;width:274.30px;height:51.60px;box-sizing:border-box;border:3px solid #a48f4a;border-radius:7px;background:#eee4c4;overflow:hidden;"><div style="position:absolute;left:-10px;top:8px;width:28.5px;height:28.5px;border-radius:50%;background:#c9524c;"></div><div class="t" style="left:1.6px;top:15.1px;font-size:15px;line-height:15px;font-weight:700;color:#ffe0da;transform:scaleX(0.82);transform-origin:0 0">O</div><div style="position:absolute;right:-10px;top:8px;width:28.5px;height:28.5px;border-radius:50%;background:#c9524c;"></div><div class="t" style="right:2.2px;top:15.1px;font-size:15px;line-height:15px;font-weight:700;color:#ffe0da;transform:scaleX(0.82);transform-origin:100% 0">S</div></div>
<div class="t" style="left:530.85px;width:1200px;text-align:center;transform-origin:600px 0;top:424.64px;font-size:22.90px;line-height:22.90px;font-weight:700;-webkit-text-stroke:0.30px #57491c;color:#57491c;transform:scaleX(0.8400);">Copeland, Greig</div>
<div class="t" style="left:723.00px;width:1200px;text-align:center;transform-origin:600px 0;top:425.87px;font-size:22.80px;line-height:22.80px;color:#5d6272;transform:scaleX(0.9400);">4</div>
<div class="a" style="left:1391.00px;top:420.75px;width:33.00px;height:33.00px;border:2px solid #c04a4b;border-radius:50%;box-sizing:border-box;"></div>
<div class="t" style="left:807.50px;width:1200px;text-align:center;transform-origin:600px 0;top:426.00px;font-size:22.30px;line-height:22.30px;font-weight:700;-webkit-text-stroke:0.30px #b3282a;color:#b3282a;transform:scaleX(0.8600);">3</div>
<div class="a" style="left:1430.00px;top:420.75px;width:33.00px;height:33.00px;border:2px solid #9f5a20;background:#f1e41b;border-radius:50%;box-sizing:border-box;"></div>
<div class="t" style="left:846.50px;width:1200px;text-align:center;transform-origin:600px 0;top:426.00px;font-size:22.30px;line-height:22.30px;font-weight:700;-webkit-text-stroke:0.30px #b5331f;color:#b5331f;transform:scaleX(0.8600);">2</div>
<div class="a" style="left:1469.00px;top:420.75px;width:33.00px;height:33.00px;border:2px solid #1d1d1f;background:#ece51f;box-sizing:border-box;"></div>
<div class="t" style="left:885.50px;width:1200px;text-align:center;transform-origin:600px 0;top:426.00px;font-size:22.30px;line-height:22.30px;font-weight:700;-webkit-text-stroke:0.30px #111;color:#111;transform:scaleX(0.8600);">7</div>
<div class="a" style="left:1543.70px;top:420.75px;width:33.00px;height:33.00px;border:2px solid #1d1d1f;background:#ece51f;box-sizing:border-box;"></div>
<div class="t" style="left:960.20px;width:1200px;text-align:center;transform-origin:600px 0;top:426.00px;font-size:22.30px;line-height:22.30px;font-weight:700;-webkit-text-stroke:0.30px #111;color:#111;transform:scaleX(0.8600);">7</div>
<div class="a" style="left:1582.70px;top:420.75px;width:33.00px;height:33.00px;border:2px solid #9f5a20;background:#f1e41b;border-radius:50%;box-sizing:border-box;"></div>
<div class="t" style="left:999.20px;width:1200px;text-align:center;transform-origin:600px 0;top:426.00px;font-size:22.30px;line-height:22.30px;font-weight:700;-webkit-text-stroke:0.30px #b5331f;color:#b5331f;transform:scaleX(0.8600);">2</div>
<div class="a" style="left:1621.70px;top:420.75px;width:33.00px;height:33.00px;border:2px solid #1d1d1f;background:#ece51f;box-sizing:border-box;"></div>
<div class="t" style="left:1038.20px;width:1200px;text-align:center;transform-origin:600px 0;top:426.00px;font-size:22.30px;line-height:22.30px;font-weight:700;-webkit-text-stroke:0.30px #111;color:#111;transform:scaleX(0.8600);">6</div>
<div class="a" style="left:1695.30px;top:420.75px;width:33.00px;height:33.00px;border:2px solid #9f5a20;background:#f1e41b;border-radius:50%;box-sizing:border-box;"></div>
<div class="t" style="left:1111.80px;width:1200px;text-align:center;transform-origin:600px 0;top:426.00px;font-size:22.30px;line-height:22.30px;font-weight:700;-webkit-text-stroke:0.30px #b5331f;color:#b5331f;transform:scaleX(0.8600);">2</div>
<div class="a" style="left:1734.30px;top:420.75px;width:33.00px;height:33.00px;border:2px solid #1d1d1f;background:#ece51f;box-sizing:border-box;"></div>
<div class="t" style="left:1150.80px;width:1200px;text-align:center;transform-origin:600px 0;top:426.00px;font-size:22.30px;line-height:22.30px;font-weight:700;-webkit-text-stroke:0.30px #111;color:#111;transform:scaleX(0.8600);">6</div>
<div class="a" style="left:1773.30px;top:420.75px;width:33.00px;height:33.00px;border:2px solid #c04a4b;border-radius:50%;box-sizing:border-box;"></div>
<div class="t" style="left:1189.80px;width:1200px;text-align:center;transform-origin:600px 0;top:426.00px;font-size:22.30px;line-height:22.30px;font-weight:700;-webkit-text-stroke:0.30px #b3282a;color:#b3282a;transform:scaleX(0.8600);">3</div>
<div class="a" style="left:1927.00px;top:420.75px;width:33.00px;height:33.00px;border:2px solid #9f5a20;background:#f1e41b;border-radius:50%;box-sizing:border-box;"></div>
<div class="t" style="left:1343.50px;width:1200px;text-align:center;transform-origin:600px 0;top:426.00px;font-size:22.30px;line-height:22.30px;font-weight:700;-webkit-text-stroke:0.30px #b5331f;color:#b5331f;transform:scaleX(0.8600);">2</div>
<div class="a" style="left:1966.00px;top:420.75px;width:33.00px;height:33.00px;border:2px solid #1d1d1f;background:rgba(255,255,255,.45);box-sizing:border-box;"></div>
<div class="t" style="left:1382.50px;width:1200px;text-align:center;transform-origin:600px 0;top:426.00px;font-size:22.30px;line-height:22.30px;font-weight:700;-webkit-text-stroke:0.30px #111;color:#111;transform:scaleX(0.8600);">5</div>
<div class="a" style="left:2005.00px;top:420.75px;width:33.00px;height:33.00px;border:2px solid #9f5a20;background:#f1e41b;border-radius:50%;box-sizing:border-box;"></div>
<div class="t" style="left:1421.50px;width:1200px;text-align:center;transform-origin:600px 0;top:426.00px;font-size:22.30px;line-height:22.30px;font-weight:700;-webkit-text-stroke:0.30px #b5331f;color:#b5331f;transform:scaleX(0.8600);">2</div>
<div class="a" style="left:2093.00px;top:436.00px;width:12.00px;height:2.00px;background:#6f7380;"></div>
<div class="a" style="left:2135.00px;top:436.00px;width:12.00px;height:2.00px;background:#6f7380;"></div>
<div class="a" style="left:2177.00px;top:436.00px;width:12.00px;height:2.00px;background:#6f7380;"></div>
<div class="a" style="left:2258.00px;top:436.00px;width:12.00px;height:2.00px;background:#6f7380;"></div>
<div class="a" style="left:2300.00px;top:436.00px;width:12.00px;height:2.00px;background:#6f7380;"></div>
<div class="a" style="left:2342.00px;top:436.00px;width:12.00px;height:2.00px;background:#6f7380;"></div>
<div class="t" style="left:1267.00px;width:1200px;text-align:center;transform-origin:600px 0;top:425.87px;font-size:22.80px;line-height:22.80px;color:#5d6272;transform:scaleX(0.9400);">34</div>
<div class="t" style="left:1819.50px;width:1200px;text-align:center;transform-origin:600px 0;top:425.87px;font-size:22.80px;line-height:22.80px;color:#5d6272;transform:scaleX(0.9400);">7</div>
<div class="t" style="left:1896.70px;width:1200px;text-align:center;transform-origin:600px 0;top:425.87px;font-size:22.80px;line-height:22.80px;color:#5d6272;transform:scaleX(0.9400);">41</div>
<div class="t" style="left:345.00px;width:1200px;text-align:center;transform-origin:600px 0;top:503.37px;font-size:22.80px;line-height:22.80px;color:#5d6272;transform:scaleX(0.9400);">999</div>
<div class="a" style="left:993.70px;top:488.20px;width:274.30px;height:51.60px;box-sizing:border-box;border:3px solid #a48f4a;border-radius:7px;background:#eee4c4;overflow:hidden;"></div>
<div class="t" style="left:530.85px;width:1200px;text-align:center;transform-origin:600px 0;top:502.14px;font-size:22.90px;line-height:22.90px;font-weight:700;-webkit-text-stroke:0.30px #57491c;color:#57491c;transform:scaleX(0.8400);">Sutton, Carol</div>
<div class="t" style="left:723.00px;width:1200px;text-align:center;transform-origin:600px 0;top:503.37px;font-size:22.80px;line-height:22.80px;color:#5d6272;transform:scaleX(0.9400);">4</div>
<div class="a" style="left:1391.00px;top:498.25px;width:33.00px;height:33.00px;border:2px solid #9f5a20;background:#f1e41b;border-radius:50%;box-sizing:border-box;"></div>
<div class="t" style="left:807.50px;width:1200px;text-align:center;transform-origin:600px 0;top:503.50px;font-size:22.30px;line-height:22.30px;font-weight:700;-webkit-text-stroke:0.30px #b5331f;color:#b5331f;transform:scaleX(0.8600);">2</div>
<div class="a" style="left:1430.00px;top:498.25px;width:33.00px;height:33.00px;border:2px solid #1d1d1f;background:#ece51f;box-sizing:border-box;"></div>
<div class="t" style="left:846.50px;width:1200px;text-align:center;transform-origin:600px 0;top:503.50px;font-size:22.30px;line-height:22.30px;font-weight:700;-webkit-text-stroke:0.30px #111;color:#111;transform:scaleX(0.8600);">6</div>
<div class="t" style="left:885.50px;width:1200px;text-align:center;transform-origin:600px 0;top:503.50px;font-size:22.30px;line-height:22.30px;font-weight:700;-webkit-text-stroke:0.30px #3333bd;color:#3333bd;transform:scaleX(0.8600);">4</div>
<div class="a" style="left:1543.70px;top:498.25px;width:33.00px;height:33.00px;border:2px solid #1d1d1f;background:rgba(255,255,255,.45);box-sizing:border-box;"></div>
<div class="t" style="left:960.20px;width:1200px;text-align:center;transform-origin:600px 0;top:503.50px;font-size:22.30px;line-height:22.30px;font-weight:700;-webkit-text-stroke:0.30px #111;color:#111;transform:scaleX(0.8600);">5</div>
<div class="a" style="left:1582.70px;top:498.25px;width:33.00px;height:33.00px;border:2px solid #1d1d1f;background:rgba(255,255,255,.45);box-sizing:border-box;"></div>
<div class="t" style="left:999.20px;width:1200px;text-align:center;transform-origin:600px 0;top:503.50px;font-size:22.30px;line-height:22.30px;font-weight:700;-webkit-text-stroke:0.30px #111;color:#111;transform:scaleX(0.8600);">5</div>
<div class="t" style="left:1038.20px;width:1200px;text-align:center;transform-origin:600px 0;top:503.50px;font-size:22.30px;line-height:22.30px;font-weight:700;-webkit-text-stroke:0.30px #3333bd;color:#3333bd;transform:scaleX(0.8600);">4</div>
<div class="t" style="left:1111.80px;width:1200px;text-align:center;transform-origin:600px 0;top:503.50px;font-size:22.30px;line-height:22.30px;font-weight:700;-webkit-text-stroke:0.30px #3333bd;color:#3333bd;transform:scaleX(0.8600);">4</div>
<div class="a" style="left:1734.30px;top:498.25px;width:33.00px;height:33.00px;border:2px solid #1d1d1f;background:#ece51f;box-sizing:border-box;"></div>
<div class="t" style="left:1150.80px;width:1200px;text-align:center;transform-origin:600px 0;top:503.50px;font-size:22.30px;line-height:22.30px;font-weight:700;-webkit-text-stroke:0.30px #111;color:#111;transform:scaleX(0.8600);">7</div>
<div class="a" style="left:1773.30px;top:498.25px;width:33.00px;height:33.00px;border:2px solid #9f5a20;background:#f1e41b;border-radius:50%;box-sizing:border-box;"></div>
<div class="t" style="left:1189.80px;width:1200px;text-align:center;transform-origin:600px 0;top:503.50px;font-size:22.30px;line-height:22.30px;font-weight:700;-webkit-text-stroke:0.30px #b5331f;color:#b5331f;transform:scaleX(0.8600);">2</div>
<div class="t" style="left:1343.50px;width:1200px;text-align:center;transform-origin:600px 0;top:503.50px;font-size:22.30px;line-height:22.30px;font-weight:700;-webkit-text-stroke:0.30px #3333bd;color:#3333bd;transform:scaleX(0.8600);">4</div>
<div class="a" style="left:1966.00px;top:498.25px;width:33.00px;height:33.00px;border:2px solid #1d1d1f;background:rgba(255,255,255,.45);box-sizing:border-box;"></div>
<div class="t" style="left:1382.50px;width:1200px;text-align:center;transform-origin:600px 0;top:503.50px;font-size:22.30px;line-height:22.30px;font-weight:700;-webkit-text-stroke:0.30px #111;color:#111;transform:scaleX(0.8600);">5</div>
<div class="t" style="left:1421.50px;width:1200px;text-align:center;transform-origin:600px 0;top:503.50px;font-size:22.30px;line-height:22.30px;font-weight:700;-webkit-text-stroke:0.30px #3333bd;color:#3333bd;transform:scaleX(0.8600);">4</div>
<div class="a" style="left:2093.00px;top:514.00px;width:12.00px;height:2.00px;background:#6f7380;"></div>
<div class="a" style="left:2135.00px;top:514.00px;width:12.00px;height:2.00px;background:#6f7380;"></div>
<div class="a" style="left:2177.00px;top:514.00px;width:12.00px;height:2.00px;background:#6f7380;"></div>
<div class="a" style="left:2258.00px;top:514.00px;width:12.00px;height:2.00px;background:#6f7380;"></div>
<div class="a" style="left:2300.00px;top:514.00px;width:12.00px;height:2.00px;background:#6f7380;"></div>
<div class="a" style="left:2342.00px;top:514.00px;width:12.00px;height:2.00px;background:#6f7380;"></div>
<div class="t" style="left:1267.00px;width:1200px;text-align:center;transform-origin:600px 0;top:503.37px;font-size:22.80px;line-height:22.80px;color:#5d6272;transform:scaleX(0.9400);">34</div>
<div class="t" style="left:1819.50px;width:1200px;text-align:center;transform-origin:600px 0;top:503.37px;font-size:22.80px;line-height:22.80px;color:#5d6272;transform:scaleX(0.9400);">7</div>
<div class="t" style="left:1896.70px;width:1200px;text-align:center;transform-origin:600px 0;top:503.37px;font-size:22.80px;line-height:22.80px;color:#5d6272;transform:scaleX(0.9400);">41</div>
<div class="a" style="left:777.00px;top:179.00px;width:118.00px;height:50.50px;box-sizing:border-box;border:3px solid #a48f4a;border-radius:7px;background:#eee4c4;"></div>
<div class="t" style="left:236.00px;width:1200px;text-align:center;transform-origin:600px 0;top:193.63px;font-size:22.20px;line-height:22.20px;font-weight:700;-webkit-text-stroke:0.30px #4f4520;color:#4f4520;transform:scaleX(0.8600);">11</div>
<div class="t" style="left:236.00px;width:1200px;text-align:center;transform-origin:600px 0;top:236.78px;font-size:16.50px;line-height:16.50px;color:#9f8b4c;transform:scaleX(0.9200);-webkit-text-stroke:0.25px #9f8b4c;">TP-1-07:30AM</div>
<div class="a" style="left:777.00px;top:411.50px;width:118.00px;height:50.50px;box-sizing:border-box;border:3px solid #a48f4a;border-radius:7px;background:#eee4c4;"></div>
<div class="t" style="left:236.00px;width:1200px;text-align:center;transform-origin:600px 0;top:426.13px;font-size:22.20px;line-height:22.20px;font-weight:700;-webkit-text-stroke:0.30px #4f4520;color:#4f4520;transform:scaleX(0.8600);">12</div>
<div class="t" style="left:236.00px;width:1200px;text-align:center;transform-origin:600px 0;top:469.28px;font-size:16.50px;line-height:16.50px;color:#9f8b4c;transform:scaleX(0.9200);-webkit-text-stroke:0.25px #9f8b4c;">TP-1-07:30AM</div>
<div class="a" style="left:15.00px;top:562.50px;width:754.00px;height:945.50px;border-radius:9px;background:#fff;"></div>
<svg class="a" style="left:40.30px;top:578.00px;" width="28" height="28" viewBox="0 0 28 28"><path d="M0.4 3.6 L9.1 0.7 L18.6 3.6 L27.7 0.3 L27.7 23.8 L18.6 26.7 L9.1 23.8 L0.4 27.1 Z" fill="#9a9eaa"/><path d="M9.6 2.9 L18.2 5.6 L18.2 23.4 L9.6 21.2 Z" fill="#fff"/></svg>
<div class="t" style="left:82.90px;transform-origin:0 0;top:579.90px;font-size:26.00px;line-height:26.00px;font-weight:700;-webkit-text-stroke:0.45px #5d6272;color:#5d6272;transform:scaleX(0.7927);">COURSE MAP</div>
<div class="a" style="left:690.30px;top:581.30px;width:22.30px;height:21.60px;border:3.2px solid #c3c1b1;border-radius:3px;box-sizing:border-box;"></div>
<svg class="a" style="left:729.90px;top:582.70px;" width="20" height="18.4" viewBox="0 0 20 18.4"><path d="M1.6 1.6 L18.3 16.8 M18.3 1.6 L1.6 16.8" stroke="#c3c1b1" stroke-width="3.2" stroke-linecap="round"/></svg>
<svg class="a" style="left:15px;top:620px;overflow:hidden" width="754" height="700" viewBox="15 620 754 700">
<path d="M15 906.5 C60 897 120 888 165 881 L340 842 C420 852 520 857 628 857.5 C690 857 740 851 769 848 L769 1259.6 C700 1263 640 1265 560 1265 C420 1264 250 1252 15 1239.8 Z" fill="#277300"/>
<path d="M100.9 1110.8 C100 1085 115 1066 140 1065.5 C175 1065 215 1052 248 1044.7 C270 1038 285 1022 300 1019.5 C318 1015 330 1015 340 1019 C352 1025 360 1029 372 1027 C385 1024 395 1022 410 1025.5 C435 1032 450 1041 470 1041.8 C495 1042 515 1038 530 1034 C560 1025 595 1005 628 988.5 C660 973 700 958 740 948.5 C755 945.5 769 944 785 941 L785 1026 C750 1030 735 1035 727.5 1041.4 C715 1052 705 1062 694.4 1067.9 C675 1080 660 1088 644.8 1091 C625 1094 605 1095 595.2 1097.6 C570 1107 548 1120 529 1127.4 C510 1137 495 1148 479.5 1150.5 C455 1153 430 1150 413.4 1143.9 C398 1137 390 1130 380.3 1127.4 C360 1122 345 1117 333 1115.5 C318 1114 310 1118 304.2 1127.4 C298 1138 295 1150 287.7 1155.5 C280 1160 272 1161.5 264.6 1161.4 C240 1161.5 220 1161 198.4 1160.4 C170 1158 150 1154 132.3 1150.5 C115 1146 102 1132 100.9 1110.8 Z" fill="#4fe200" stroke="#0b2a00" stroke-width="1.3"/>
<path d="M785 1082 L769 1084.4 C755 1086 740 1095 737.4 1109 C736 1125 752 1140 769 1145.6 L785 1150 Z" fill="#4fe200" stroke="#0b2a00" stroke-width="1.3"/>
<ellipse cx="51.3" cy="1171.4" rx="10.3" ry="8.8" fill="#4fe200" stroke="#0b2a00" stroke-width="1.3"/>
<path d="M103 955 C103 945 107 939 113 935.6 C122 930 132 926 139 922.4 C150 912 158 898 162 889.3 C168 878 172 868 175.3 864.5 C178 858 182 852 185.2 849.6 C193 840 203 833 211.6 829.1 C230 823 250 820 264.6 819.2 C285 816 305 814 322.4 813.2 C330 812.5 334 813.5 335.6 816.5 C339 822 341 830 340.6 836.4 C340 845 336 851 332.3 854.6 C327 858 322 861 317.5 862.8 C305 866 298 868 291 872.8 C282 880 274 892 264.6 899.2 C255 905 245 907 238.1 912.4 C230 918 227 925 224.9 932.3 C223 940 224 947 221.6 952.1 C217 960 210 966 205 968.7 C200 971 196 971 195.1 970.3 C193 968 193 962 191.8 958.7 C188 954 184 951 180.5 948.8 C165 958 145 972 134 979.5 C128 980 124 976 119 972 C110 966 103 962 103 955 Z" fill="#98d8f2" stroke="#3f6fd5" stroke-width="2.6"/>
<path d="M264.6 978.6 C268 978 270 982 269.5 987 C268.5 992 262 998 257 1003 C254 1006 254.5 1008 256 1010 C260 1012 263.5 1016 262.9 1021 C262.5 1026 259 1028.5 254 1029.5 C247 1031 240 1032 236 1034 C230 1037 226 1038.5 222 1037 C216.5 1035 214.5 1030 215 1026 C216 1021 222 1018 230 1017.5 C235 1017 236.5 1013 237 1008 C238 1000 243 994 250 988 C255 983.5 260 979.5 264.6 978.6 Z" fill="#dcdcdf" stroke="#d5392a" stroke-width="1.4"/>
<path d="M299.3 975.3 C301 968 306 965 313 964.8 C320 964.5 324 968 326.5 972 C328.5 976 331 977.5 336 976 C341 974 347 974 352 976 C358 978.5 361.5 983 362.5 990 C363.5 996 362 1000 364 1005 C366.5 1011 362 1016.5 356 1016.8 C351 1017 348.5 1013 346 1009 C343.5 1004 341 1000 336 997 C331 994 328 995 327 999 C326.5 1003 326 1007 320 1008 C313 1009 309.5 1005 308 1000 C307 996 305 992 301.5 987 C298.5 983 298 979 299.3 975.3 Z" fill="#dcdcdf" stroke="#d5392a" stroke-width="1.4"/>
<path d="M310.8 1143.9 C311 1136 314 1131 320 1130.5 C327 1130 333 1134 340 1135.5 C350 1137 360 1134 370 1133.5 C380 1133 388 1136 390 1142 C392 1150 389 1156 382 1158.5 C376 1160.5 373 1164 372 1170 C371 1177 369 1182 364.5 1183.5 C360 1184.5 356 1180 353.5 1174 C351 1168 348 1164 343 1162.5 C337 1161 333 1163.5 327 1163.8 C320 1164 314 1161 312 1155 C311 1151 310.8 1147 310.8 1143.9 Z" fill="#dcdcdf" stroke="#d5392a" stroke-width="1.4"/>
</svg>
<div class="a" style="left:784.00px;top:562.50px;width:1745.00px;height:383.50px;border-radius:9px;background:rgba(255,255,255,0.6);"></div>
<div class="a" style="left:784.00px;top:562.50px;width:1745.00px;height:62.00px;border-radius:9px 9px 0 0;background:#fff;"></div>
<div class="a" style="left:784.00px;top:623.00px;width:1745.00px;height:2.00px;background:#e9eaee;"></div>
<div class="a" style="left:784px;top:562.5px;width:27px;height:27px;border-radius:9px 0 27px 0;background:#f1e7c6;"></div>
<svg class="a" style="left:790.00px;top:566.50px;" width="10" height="19" viewBox="0 0 10 19"><path d="M5 15 L5 3 M1.5 6.5 L5 2.5 L8.5 6.5" fill="none" stroke="#6e6231" stroke-width="2"/><path d="M0.5 18 L9.5 18" stroke="#6e6231" stroke-width="2"/></svg>
<svg class="a" style="left:805.80px;top:581.40px;" width="35" height="22" viewBox="0 0 35 22"><circle cx="11" cy="4" r="4.2" fill="#9a9eaa"/><circle cx="22.8" cy="4" r="4.2" fill="#9a9eaa"/><path d="M0.2 21.1 C0.2 15 5 12.4 10.8 12.4 C16.6 12.4 21.4 15 21.4 21.1 Z" fill="#9a9eaa"/><path d="M22.4 12.1 C29 12.3 34.2 15 34.2 21.1 L24.2 21.1 C24.2 17.5 23.6 14.3 22.4 12.1 Z" fill="#9a9eaa"/></svg>
<div class="t" style="left:851.80px;transform-origin:0 0;top:581.60px;font-size:26.00px;line-height:26.00px;font-weight:700;-webkit-text-stroke:0.45px #5d6272;color:#5d6272;transform:scaleX(0.7531);">GROUP</div>
<div class="t" style="left:931.50px;transform-origin:0 0;top:580.92px;font-size:26.80px;line-height:26.80px;color:#5d6272;transform:scaleX(0.6191);">№</div>
<div class="t" style="left:952.50px;transform-origin:0 0;top:581.60px;font-size:26.00px;line-height:26.00px;font-weight:700;-webkit-text-stroke:0.45px #5d6272;color:#5d6272;transform:scaleX(0.4979);">1</div>
<svg class="a" style="left:975.50px;top:585.50px;" width="14" height="9" viewBox="0 0 14 9"><path d="M1.5 1.5 L7 7 L12.5 1.5" fill="none" stroke="#a48e3c" stroke-width="3" stroke-linecap="round" stroke-linejoin="round"/></svg>
<div class="a" style="left:2450.30px;top:580.80px;width:22.30px;height:21.60px;border:3.2px solid #c3c1b1;border-radius:3px;box-sizing:border-box;"></div>
<svg class="a" style="left:2489.90px;top:582.20px;" width="20" height="18.4" viewBox="0 0 20 18.4"><path d="M1.6 1.6 L18.3 16.8 M18.3 1.6 L1.6 16.8" stroke="#c3c1b1" stroke-width="3.2" stroke-linecap="round"/></svg>
<div class="a" style="left:784.00px;top:624.50px;width:1745.00px;height:88.50px;background:#fbfbfd;"></div>
<div class="a" style="left:967.80px;top:659.00px;width:1.50px;height:54.00px;background:#f1f1f4;"></div>
<div class="a" style="left:1122.60px;top:659.00px;width:1.50px;height:54.00px;background:#f1f1f4;"></div>
<div class="a" style="left:1227.00px;top:659.00px;width:1.50px;height:54.00px;background:#f1f1f4;"></div>
<div class="a" style="left:2221.40px;top:659.00px;width:1.50px;height:54.00px;background:#f1f1f4;"></div>
<div class="a" style="left:2302.00px;top:659.00px;width:1.50px;height:54.00px;background:#f1f1f4;"></div>
<div class="a" style="left:2402.60px;top:659.00px;width:1.50px;height:54.00px;background:#f1f1f4;"></div>
<div class="a" style="left:1313.00px;top:624.50px;width:1.50px;height:88.50px;background:#f1f1f4;"></div>
<div class="a" style="left:1440.00px;top:624.50px;width:1.50px;height:88.50px;background:#f1f1f4;"></div>
<div class="a" style="left:1567.00px;top:624.50px;width:1.50px;height:88.50px;background:#f1f1f4;"></div>
<div class="a" style="left:1694.00px;top:624.50px;width:1.50px;height:88.50px;background:#f1f1f4;"></div>
<div class="a" style="left:1762.00px;top:624.50px;width:1.50px;height:88.50px;background:#f1f1f4;"></div>
<div class="a" style="left:1895.00px;top:624.50px;width:1.50px;height:88.50px;background:#f1f1f4;"></div>
<div class="a" style="left:2032.00px;top:624.50px;width:1.50px;height:88.50px;background:#f1f1f4;"></div>
<div class="a" style="left:2170.00px;top:624.50px;width:1.50px;height:88.50px;background:#f1f1f4;"></div>
<div class="t" style="left:844.80px;transform-origin:0 0;top:673.18px;font-size:23.20px;line-height:23.20px;font-weight:700;-webkit-text-stroke:0.30px #5d6272;color:#5d6272;transform:scaleX(0.8039);">Name</div>
<svg class="a" style="left:949.60px;top:681.80px;" width="10" height="6" viewBox="0 0 10 6"><path d="M0 0 L10 0 L5 5.5 Z" fill="#a9a9ad"/></svg>
<div class="t" style="left:1015.40px;transform-origin:0 0;top:673.18px;font-size:23.20px;line-height:23.20px;font-weight:700;-webkit-text-stroke:0.30px #5d6272;color:#5d6272;transform:scaleX(0.7629);">Event</div>
<svg class="a" style="left:1103.00px;top:681.80px;" width="10" height="6" viewBox="0 0 10 6"><path d="M0 0 L10 0 L5 5.5 Z" fill="#a9a9ad"/></svg>
<div class="t" style="left:1134.50px;transform-origin:0 0;top:673.18px;font-size:23.20px;line-height:23.20px;font-weight:700;-webkit-text-stroke:0.30px #5d6272;color:#5d6272;transform:scaleX(0.7931);">Strokes</div>
<svg class="a" style="left:1206.20px;top:681.80px;" width="10" height="6" viewBox="0 0 10 6"><path d="M0 0 L10 0 L5 5.5 Z" fill="#a9a9ad"/></svg>
<div class="t" style="left:1237.70px;transform-origin:0 0;top:673.18px;font-size:23.20px;line-height:23.20px;font-weight:700;-webkit-text-stroke:0.30px #5d6272;color:#5d6272;transform:scaleX(0.7823);">Today</div>
<svg class="a" style="left:1294.00px;top:681.80px;" width="10" height="6" viewBox="0 0 10 6"><path d="M0 0 L10 0 L5 5.5 Z" fill="#a9a9ad"/></svg>
<div class="t" style="left:1707.40px;transform-origin:0 0;top:673.18px;font-size:23.20px;line-height:23.20px;font-weight:700;-webkit-text-stroke:0.30px #5d6272;color:#5d6272;transform:scaleX(0.7611);">Out</div>
<svg class="a" style="left:1742.00px;top:681.80px;" width="10" height="6" viewBox="0 0 10 6"><path d="M0 0 L10 0 L5 5.5 Z" fill="#a9a9ad"/></svg>
<div class="t" style="left:2182.50px;transform-origin:0 0;top:673.18px;font-size:23.20px;line-height:23.20px;font-weight:700;-webkit-text-stroke:0.30px #5d6272;color:#5d6272;transform:scaleX(0.8003);">In</div>
<svg class="a" style="left:2204.00px;top:681.80px;" width="10" height="6" viewBox="0 0 10 6"><path d="M0 0 L10 0 L5 5.5 Z" fill="#a9a9ad"/></svg>
<div class="t" style="left:2235.40px;transform-origin:0 0;top:673.18px;font-size:23.20px;line-height:23.20px;font-weight:700;-webkit-text-stroke:0.30px #5d6272;color:#5d6272;transform:scaleX(0.7896);">Total</div>
<svg class="a" style="left:2282.60px;top:681.80px;" width="10" height="6" viewBox="0 0 10 6"><path d="M0 0 L10 0 L5 5.5 Z" fill="#a9a9ad"/></svg>
<div class="t" style="left:2314.00px;transform-origin:0 0;top:673.18px;font-size:23.20px;line-height:23.20px;font-weight:700;-webkit-text-stroke:0.30px #5d6272;color:#5d6272;transform:scaleX(0.8075);">Official</div>
<svg class="a" style="left:2381.80px;top:681.80px;" width="10" height="6" viewBox="0 0 10 6"><path d="M0 0 L10 0 L5 5.5 Z" fill="#a9a9ad"/></svg>
<div class="t" style="left:2413.00px;transform-origin:0 0;top:673.18px;font-size:23.20px;line-height:23.20px;font-weight:700;-webkit-text-stroke:0.30px #5d6272;color:#5d6272;transform:scaleX(0.7910);">SC Official</div>
<svg class="a" style="left:2511.40px;top:681.80px;" width="10" height="6" viewBox="0 0 10 6"><path d="M0 0 L10 0 L5 5.5 Z" fill="#a9a9ad"/></svg>
<div class="t" style="left:1354.38px;transform-origin:0 0;top:630.24px;font-size:21.60px;line-height:21.60px;font-weight:700;-webkit-text-stroke:0.30px #737785;color:#737785;transform:scaleX(0.9000);">1</div>
<div class="t" style="left:1371.19px;transform-origin:0 0;top:630.24px;font-size:21.60px;line-height:21.60px;font-weight:700;-webkit-text-stroke:0.30px #737785;color:#737785;transform:scaleX(0.9000);">2</div>
<div class="t" style="left:1388.01px;transform-origin:0 0;top:630.24px;font-size:21.60px;line-height:21.60px;font-weight:700;-webkit-text-stroke:0.30px #737785;color:#737785;transform:scaleX(0.9000);">3</div>
<div class="t" style="left:1354.15px;transform-origin:0 0;top:673.60px;font-size:22.00px;line-height:22.00px;font-weight:700;-webkit-text-stroke:0.30px #3333bd;color:#3333bd;transform:scaleX(0.8800);">4</div>
<div class="t" style="left:1371.22px;transform-origin:0 0;top:673.60px;font-size:22.00px;line-height:22.00px;font-weight:700;-webkit-text-stroke:0.30px #3333bd;color:#3333bd;transform:scaleX(0.8800);">4</div>
<div class="t" style="left:1388.28px;transform-origin:0 0;top:673.60px;font-size:22.00px;line-height:22.00px;font-weight:700;-webkit-text-stroke:0.30px #3333bd;color:#3333bd;transform:scaleX(0.8800);">4</div>
<div class="t" style="left:1481.38px;transform-origin:0 0;top:630.24px;font-size:21.60px;line-height:21.60px;font-weight:700;-webkit-text-stroke:0.30px #737785;color:#737785;transform:scaleX(0.9000);">4</div>
<div class="t" style="left:1498.19px;transform-origin:0 0;top:630.24px;font-size:21.60px;line-height:21.60px;font-weight:700;-webkit-text-stroke:0.30px #737785;color:#737785;transform:scaleX(0.9000);">5</div>
<div class="t" style="left:1515.01px;transform-origin:0 0;top:630.24px;font-size:21.60px;line-height:21.60px;font-weight:700;-webkit-text-stroke:0.30px #737785;color:#737785;transform:scaleX(0.9000);">6</div>
<div class="t" style="left:1481.15px;transform-origin:0 0;top:673.60px;font-size:22.00px;line-height:22.00px;font-weight:700;-webkit-text-stroke:0.30px #3333bd;color:#3333bd;transform:scaleX(0.8800);">4</div>
<div class="t" style="left:1498.22px;transform-origin:0 0;top:673.60px;font-size:22.00px;line-height:22.00px;font-weight:700;-webkit-text-stroke:0.30px #3333bd;color:#3333bd;transform:scaleX(0.8800);">4</div>
<div class="t" style="left:1515.28px;transform-origin:0 0;top:673.60px;font-size:22.00px;line-height:22.00px;font-weight:700;-webkit-text-stroke:0.30px #3333bd;color:#3333bd;transform:scaleX(0.8800);">4</div>
<div class="t" style="left:1608.38px;transform-origin:0 0;top:630.24px;font-size:21.60px;line-height:21.60px;font-weight:700;-webkit-text-stroke:0.30px #737785;color:#737785;transform:scaleX(0.9000);">7</div>
<div class="t" style="left:1625.19px;transform-origin:0 0;top:630.24px;font-size:21.60px;line-height:21.60px;font-weight:700;-webkit-text-stroke:0.30px #737785;color:#737785;transform:scaleX(0.9000);">8</div>
<div class="t" style="left:1642.01px;transform-origin:0 0;top:630.24px;font-size:21.60px;line-height:21.60px;font-weight:700;-webkit-text-stroke:0.30px #737785;color:#737785;transform:scaleX(0.9000);">9</div>
<div class="t" style="left:1608.15px;transform-origin:0 0;top:673.60px;font-size:22.00px;line-height:22.00px;font-weight:700;-webkit-text-stroke:0.30px #3333bd;color:#3333bd;transform:scaleX(0.8800);">4</div>
<div class="t" style="left:1625.22px;transform-origin:0 0;top:673.60px;font-size:22.00px;line-height:22.00px;font-weight:700;-webkit-text-stroke:0.30px #3333bd;color:#3333bd;transform:scaleX(0.8800);">4</div>
<div class="t" style="left:1642.28px;transform-origin:0 0;top:673.60px;font-size:22.00px;line-height:22.00px;font-weight:700;-webkit-text-stroke:0.30px #3333bd;color:#3333bd;transform:scaleX(0.8800);">4</div>
<div class="t" style="left:1790.60px;transform-origin:0 0;top:630.24px;font-size:21.60px;line-height:21.60px;font-weight:700;-webkit-text-stroke:0.30px #737785;color:#737785;transform:scaleX(0.9000);">10</div>
<div class="t" style="left:1818.22px;transform-origin:0 0;top:630.24px;font-size:21.60px;line-height:21.60px;font-weight:700;-webkit-text-stroke:0.30px #111;color:#111;transform:scaleX(0.9000);">11</div>
<div class="t" style="left:1844.78px;transform-origin:0 0;top:630.24px;font-size:21.60px;line-height:21.60px;font-weight:700;-webkit-text-stroke:0.30px #a9acb6;color:#a9acb6;transform:scaleX(0.9000);">12</div>
<div class="t" style="left:1806.05px;transform-origin:0 0;top:673.60px;font-size:22.00px;line-height:22.00px;font-weight:700;-webkit-text-stroke:0.30px #3333bd;color:#3333bd;transform:scaleX(0.8800);">4</div>
<div class="t" style="left:1823.12px;transform-origin:0 0;top:673.60px;font-size:22.00px;line-height:22.00px;font-weight:700;-webkit-text-stroke:0.30px #3333bd;color:#3333bd;transform:scaleX(0.8800);">4</div>
<div class="t" style="left:1840.18px;transform-origin:0 0;top:673.60px;font-size:22.00px;line-height:22.00px;font-weight:700;-webkit-text-stroke:0.30px #3333bd;color:#3333bd;transform:scaleX(0.8800);">4</div>
<div class="t" style="left:1925.06px;transform-origin:0 0;top:630.24px;font-size:21.60px;line-height:21.60px;font-weight:700;-webkit-text-stroke:0.30px #a9acb6;color:#a9acb6;transform:scaleX(0.9000);">13</div>
<div class="t" style="left:1952.69px;transform-origin:0 0;top:630.24px;font-size:21.60px;line-height:21.60px;font-weight:700;-webkit-text-stroke:0.30px #a9acb6;color:#a9acb6;transform:scaleX(0.9000);">14</div>
<div class="t" style="left:1980.31px;transform-origin:0 0;top:630.24px;font-size:21.60px;line-height:21.60px;font-weight:700;-webkit-text-stroke:0.30px #a9acb6;color:#a9acb6;transform:scaleX(0.9000);">15</div>
<div class="t" style="left:1941.05px;transform-origin:0 0;top:673.60px;font-size:22.00px;line-height:22.00px;font-weight:700;-webkit-text-stroke:0.30px #3333bd;color:#3333bd;transform:scaleX(0.8800);">4</div>
<div class="t" style="left:1958.12px;transform-origin:0 0;top:673.60px;font-size:22.00px;line-height:22.00px;font-weight:700;-webkit-text-stroke:0.30px #3333bd;color:#3333bd;transform:scaleX(0.8800);">4</div>
<div class="t" style="left:1975.18px;transform-origin:0 0;top:673.60px;font-size:22.00px;line-height:22.00px;font-weight:700;-webkit-text-stroke:0.30px #3333bd;color:#3333bd;transform:scaleX(0.8800);">4</div>
<div class="t" style="left:2062.56px;transform-origin:0 0;top:630.24px;font-size:21.60px;line-height:21.60px;font-weight:700;-webkit-text-stroke:0.30px #a9acb6;color:#a9acb6;transform:scaleX(0.9000);">16</div>
<div class="t" style="left:2090.19px;transform-origin:0 0;top:630.24px;font-size:21.60px;line-height:21.60px;font-weight:700;-webkit-text-stroke:0.30px #a9acb6;color:#a9acb6;transform:scaleX(0.9000);">17</div>
<div class="t" style="left:2117.81px;transform-origin:0 0;top:630.24px;font-size:21.60px;line-height:21.60px;font-weight:700;-webkit-text-stroke:0.30px #a9acb6;color:#a9acb6;transform:scaleX(0.9000);">18</div>
<div class="t" style="left:2078.55px;transform-origin:0 0;top:673.60px;font-size:22.00px;line-height:22.00px;font-weight:700;-webkit-text-stroke:0.30px #3333bd;color:#3333bd;transform:scaleX(0.8800);">4</div>
<div class="t" style="left:2095.62px;transform-origin:0 0;top:673.60px;font-size:22.00px;line-height:22.00px;font-weight:700;-webkit-text-stroke:0.30px #3333bd;color:#3333bd;transform:scaleX(0.8800);">4</div>
<div class="t" style="left:2112.68px;transform-origin:0 0;top:673.60px;font-size:22.00px;line-height:22.00px;font-weight:700;-webkit-text-stroke:0.30px #3333bd;color:#3333bd;transform:scaleX(0.8800);">4</div>
<div class="a" style="left:784.00px;top:789.20px;width:1745.00px;height:2.20px;background:#fdfdfd;"></div>
<div class="a" style="left:792.00px;top:726.00px;width:169.00px;height:50.40px;box-sizing:border-box;border:3px solid #a48f4a;border-radius:7px;background:#eee4c4;overflow:hidden;"></div>
<div class="t" style="left:276.50px;width:1200px;text-align:center;transform-origin:600px 0;top:739.34px;font-size:22.90px;line-height:22.90px;font-weight:700;-webkit-text-stroke:0.30px #57491c;color:#57491c;transform:scaleX(0.8400);">Miller, Ross</div>
<div class="t" style="left:977.00px;transform-origin:0 0;top:739.52px;font-size:22.80px;line-height:22.80px;color:#5d6272;transform:scaleX(0.9464);">Player Hit Ball</div>
<div class="t" style="left:573.40px;width:1200px;text-align:center;transform-origin:600px 0;top:739.52px;font-size:22.80px;line-height:22.80px;color:#5d6272;transform:scaleX(0.9400);">28</div>
<div class="t" style="left:669.40px;width:1200px;text-align:center;transform-origin:600px 0;top:739.52px;font-size:22.80px;line-height:22.80px;color:#5d6272;transform:scaleX(0.9400);">4</div>
<div class="a" style="left:1321.10px;top:735.35px;width:33.00px;height:33.00px;border:2px solid #1d1d1f;background:#ece51f;box-sizing:border-box;"></div>
<div class="t" style="left:737.60px;width:1200px;text-align:center;transform-origin:600px 0;top:740.60px;font-size:22.30px;line-height:22.30px;font-weight:700;-webkit-text-stroke:0.30px #111;color:#111;transform:scaleX(0.8600);">6</div>
<div class="a" style="left:1360.10px;top:735.35px;width:33.00px;height:33.00px;border:2px solid #c04a4b;border-radius:50%;box-sizing:border-box;"></div>
<div class="t" style="left:776.60px;width:1200px;text-align:center;transform-origin:600px 0;top:740.60px;font-size:22.30px;line-height:22.30px;font-weight:700;-webkit-text-stroke:0.30px #b3282a;color:#b3282a;transform:scaleX(0.8600);">3</div>
<div class="a" style="left:1399.10px;top:735.35px;width:33.00px;height:33.00px;border:2px solid #9f5a20;background:#f1e41b;border-radius:50%;box-sizing:border-box;"></div>
<div class="t" style="left:815.60px;width:1200px;text-align:center;transform-origin:600px 0;top:740.60px;font-size:22.30px;line-height:22.30px;font-weight:700;-webkit-text-stroke:0.30px #b5331f;color:#b5331f;transform:scaleX(0.8600);">2</div>
<div class="a" style="left:1448.10px;top:735.35px;width:33.00px;height:33.00px;border:2px solid #1d1d1f;background:#ece51f;box-sizing:border-box;"></div>
<div class="t" style="left:864.60px;width:1200px;text-align:center;transform-origin:600px 0;top:740.60px;font-size:22.30px;line-height:22.30px;font-weight:700;-webkit-text-stroke:0.30px #111;color:#111;transform:scaleX(0.8600);">7</div>
<div class="t" style="left:903.60px;width:1200px;text-align:center;transform-origin:600px 0;top:740.60px;font-size:22.30px;line-height:22.30px;font-weight:700;-webkit-text-stroke:0.30px #3333bd;color:#3333bd;transform:scaleX(0.8600);">4</div>
<div class="a" style="left:1526.10px;top:735.35px;width:33.00px;height:33.00px;border:2px solid #1d1d1f;background:rgba(255,255,255,.45);box-sizing:border-box;"></div>
<div class="t" style="left:942.60px;width:1200px;text-align:center;transform-origin:600px 0;top:740.60px;font-size:22.30px;line-height:22.30px;font-weight:700;-webkit-text-stroke:0.30px #111;color:#111;transform:scaleX(0.8600);">5</div>
<div class="a" style="left:1575.10px;top:735.35px;width:33.00px;height:33.00px;border:2px solid #c04a4b;border-radius:50%;box-sizing:border-box;"></div>
<div class="t" style="left:991.60px;width:1200px;text-align:center;transform-origin:600px 0;top:740.60px;font-size:22.30px;line-height:22.30px;font-weight:700;-webkit-text-stroke:0.30px #b3282a;color:#b3282a;transform:scaleX(0.8600);">3</div>
<div class="a" style="left:1614.10px;top:735.35px;width:33.00px;height:33.00px;border:2px solid #9f5a20;background:#f1e41b;border-radius:50%;box-sizing:border-box;"></div>
<div class="t" style="left:1030.60px;width:1200px;text-align:center;transform-origin:600px 0;top:740.60px;font-size:22.30px;line-height:22.30px;font-weight:700;-webkit-text-stroke:0.30px #b5331f;color:#b5331f;transform:scaleX(0.8600);">2</div>
<div class="t" style="left:1069.60px;width:1200px;text-align:center;transform-origin:600px 0;top:740.60px;font-size:22.30px;line-height:22.30px;font-weight:700;-webkit-text-stroke:0.30px #3333bd;color:#3333bd;transform:scaleX(0.8600);">4</div>
<div class="a" style="left:1770.00px;top:735.35px;width:33.00px;height:33.00px;border:2px solid #1d1d1f;background:#ece51f;box-sizing:border-box;"></div>
<div class="t" style="left:1186.50px;width:1200px;text-align:center;transform-origin:600px 0;top:740.60px;font-size:22.30px;line-height:22.30px;font-weight:700;-webkit-text-stroke:0.30px #111;color:#111;transform:scaleX(0.8600);">6</div>
<div class="a" style="left:1821.00px;top:751.00px;width:12.00px;height:2.00px;background:#6f7380;"></div>
<div class="a" style="left:1863.00px;top:751.00px;width:12.00px;height:2.00px;background:#6f7380;"></div>
<div class="a" style="left:1916.00px;top:751.00px;width:12.00px;height:2.00px;background:#6f7380;"></div>
<div class="a" style="left:1958.00px;top:751.00px;width:12.00px;height:2.00px;background:#6f7380;"></div>
<div class="a" style="left:2000.00px;top:751.00px;width:12.00px;height:2.00px;background:#6f7380;"></div>
<div class="a" style="left:2053.00px;top:751.00px;width:12.00px;height:2.00px;background:#6f7380;"></div>
<div class="a" style="left:2095.00px;top:751.00px;width:12.00px;height:2.00px;background:#6f7380;"></div>
<div class="a" style="left:2137.00px;top:751.00px;width:12.00px;height:2.00px;background:#6f7380;"></div>
<div class="t" style="left:1127.50px;width:1200px;text-align:center;transform-origin:600px 0;top:739.52px;font-size:22.80px;line-height:22.80px;color:#5d6272;transform:scaleX(0.9400);">34</div>
<div class="t" style="left:1595.80px;width:1200px;text-align:center;transform-origin:600px 0;top:739.52px;font-size:22.80px;line-height:22.80px;color:#5d6272;transform:scaleX(0.9400);">7</div>
<div class="t" style="left:1661.00px;width:1200px;text-align:center;transform-origin:600px 0;top:739.52px;font-size:22.80px;line-height:22.80px;color:#5d6272;transform:scaleX(0.9400);">41</div>
<div class="a" style="left:2333.20px;top:737.05px;width:29.60px;height:29.60px;border:3px solid #cbbd92;border-radius:5px;box-sizing:border-box;"></div>
<div class="a" style="left:2447.20px;top:737.05px;width:29.60px;height:29.60px;border:3px solid #cbbd92;border-radius:5px;box-sizing:border-box;"></div>
<div class="a" style="left:784.00px;top:866.90px;width:1745.00px;height:2.20px;background:#fdfdfd;"></div>
<div class="a" style="left:792.00px;top:803.70px;width:169.00px;height:50.40px;box-sizing:border-box;border:3px solid #a48f4a;border-radius:7px;background:#eee4c4;overflow:hidden;"></div>
<div class="t" style="left:276.50px;width:1200px;text-align:center;transform-origin:600px 0;top:817.04px;font-size:22.90px;line-height:22.90px;font-weight:700;-webkit-text-stroke:0.30px #57491c;color:#57491c;transform:scaleX(0.8400);">Hunt, Roderick</div>
<div class="t" style="left:977.00px;transform-origin:0 0;top:817.22px;font-size:22.80px;line-height:22.80px;color:#5d6272;transform:scaleX(0.9464);">Player Hit Ball</div>
<div class="t" style="left:573.40px;width:1200px;text-align:center;transform-origin:600px 0;top:817.22px;font-size:22.80px;line-height:22.80px;color:#5d6272;transform:scaleX(0.9400);">28</div>
<div class="t" style="left:669.40px;width:1200px;text-align:center;transform-origin:600px 0;top:817.22px;font-size:22.80px;line-height:22.80px;color:#5d6272;transform:scaleX(0.9400);">4</div>
<div class="a" style="left:1321.10px;top:813.05px;width:33.00px;height:33.00px;border:2px solid #1d1d1f;background:#ece51f;box-sizing:border-box;"></div>
<div class="t" style="left:737.60px;width:1200px;text-align:center;transform-origin:600px 0;top:818.30px;font-size:22.30px;line-height:22.30px;font-weight:700;-webkit-text-stroke:0.30px #111;color:#111;transform:scaleX(0.8600);">7</div>
<div class="t" style="left:776.60px;width:1200px;text-align:center;transform-origin:600px 0;top:818.30px;font-size:22.30px;line-height:22.30px;font-weight:700;-webkit-text-stroke:0.30px #3333bd;color:#3333bd;transform:scaleX(0.8600);">4</div>
<div class="a" style="left:1399.10px;top:813.05px;width:33.00px;height:33.00px;border:2px solid #1d1d1f;background:rgba(255,255,255,.45);box-sizing:border-box;"></div>
<div class="t" style="left:815.60px;width:1200px;text-align:center;transform-origin:600px 0;top:818.30px;font-size:22.30px;line-height:22.30px;font-weight:700;-webkit-text-stroke:0.30px #111;color:#111;transform:scaleX(0.8600);">5</div>
<div class="a" style="left:1448.10px;top:813.05px;width:33.00px;height:33.00px;border:2px solid #c04a4b;border-radius:50%;box-sizing:border-box;"></div>
<div class="t" style="left:864.60px;width:1200px;text-align:center;transform-origin:600px 0;top:818.30px;font-size:22.30px;line-height:22.30px;font-weight:700;-webkit-text-stroke:0.30px #b3282a;color:#b3282a;transform:scaleX(0.8600);">3</div>
<div class="a" style="left:1487.10px;top:813.05px;width:33.00px;height:33.00px;border:2px solid #9f5a20;background:#f1e41b;border-radius:50%;box-sizing:border-box;"></div>
<div class="t" style="left:903.60px;width:1200px;text-align:center;transform-origin:600px 0;top:818.30px;font-size:22.30px;line-height:22.30px;font-weight:700;-webkit-text-stroke:0.30px #b5331f;color:#b5331f;transform:scaleX(0.8600);">2</div>
<div class="a" style="left:1526.10px;top:813.05px;width:33.00px;height:33.00px;border:2px solid #1d1d1f;background:rgba(255,255,255,.45);box-sizing:border-box;"></div>
<div class="t" style="left:942.60px;width:1200px;text-align:center;transform-origin:600px 0;top:818.30px;font-size:22.30px;line-height:22.30px;font-weight:700;-webkit-text-stroke:0.30px #111;color:#111;transform:scaleX(0.8600);">5</div>
<div class="a" style="left:1575.10px;top:813.05px;width:33.00px;height:33.00px;border:2px solid #9f5a20;background:#f1e41b;border-radius:50%;box-sizing:border-box;"></div>
<div class="t" style="left:991.60px;width:1200px;text-align:center;transform-origin:600px 0;top:818.30px;font-size:22.30px;line-height:22.30px;font-weight:700;-webkit-text-stroke:0.30px #b5331f;color:#b5331f;transform:scaleX(0.8600);">2</div>
<div class="a" style="left:1614.10px;top:813.05px;width:33.00px;height:33.00px;border:2px solid #1d1d1f;background:#ece51f;box-sizing:border-box;"></div>
<div class="t" style="left:1030.60px;width:1200px;text-align:center;transform-origin:600px 0;top:818.30px;font-size:22.30px;line-height:22.30px;font-weight:700;-webkit-text-stroke:0.30px #111;color:#111;transform:scaleX(0.8600);">7</div>
<div class="a" style="left:1653.10px;top:813.05px;width:33.00px;height:33.00px;border:2px solid #1d1d1f;background:rgba(255,255,255,.45);box-sizing:border-box;"></div>
<div class="t" style="left:1069.60px;width:1200px;text-align:center;transform-origin:600px 0;top:818.30px;font-size:22.30px;line-height:22.30px;font-weight:700;-webkit-text-stroke:0.30px #111;color:#111;transform:scaleX(0.8600);">5</div>
<div class="a" style="left:1770.00px;top:813.05px;width:33.00px;height:33.00px;border:2px solid #1d1d1f;background:#ece51f;box-sizing:border-box;"></div>
<div class="t" style="left:1186.50px;width:1200px;text-align:center;transform-origin:600px 0;top:818.30px;font-size:22.30px;line-height:22.30px;font-weight:700;-webkit-text-stroke:0.30px #111;color:#111;transform:scaleX(0.8600);">6</div>
<div class="a" style="left:1821.00px;top:829.00px;width:12.00px;height:2.00px;background:#6f7380;"></div>
<div class="a" style="left:1863.00px;top:829.00px;width:12.00px;height:2.00px;background:#6f7380;"></div>
<div class="a" style="left:1916.00px;top:829.00px;width:12.00px;height:2.00px;background:#6f7380;"></div>
<div class="a" style="left:1958.00px;top:829.00px;width:12.00px;height:2.00px;background:#6f7380;"></div>
<div class="a" style="left:2000.00px;top:829.00px;width:12.00px;height:2.00px;background:#6f7380;"></div>
<div class="a" style="left:2053.00px;top:829.00px;width:12.00px;height:2.00px;background:#6f7380;"></div>
<div class="a" style="left:2095.00px;top:829.00px;width:12.00px;height:2.00px;background:#6f7380;"></div>
<div class="a" style="left:2137.00px;top:829.00px;width:12.00px;height:2.00px;background:#6f7380;"></div>
<div class="t" style="left:1127.50px;width:1200px;text-align:center;transform-origin:600px 0;top:817.22px;font-size:22.80px;line-height:22.80px;color:#5d6272;transform:scaleX(0.9400);">34</div>
<div class="t" style="left:1595.80px;width:1200px;text-align:center;transform-origin:600px 0;top:817.22px;font-size:22.80px;line-height:22.80px;color:#5d6272;transform:scaleX(0.9400);">7</div>
<div class="t" style="left:1661.00px;width:1200px;text-align:center;transform-origin:600px 0;top:817.22px;font-size:22.80px;line-height:22.80px;color:#5d6272;transform:scaleX(0.9400);">41</div>
<div class="a" style="left:2333.20px;top:814.75px;width:29.60px;height:29.60px;border:3px solid #cbbd92;border-radius:5px;box-sizing:border-box;"></div>
<div class="a" style="left:2447.20px;top:814.75px;width:29.60px;height:29.60px;border:3px solid #cbbd92;border-radius:5px;box-sizing:border-box;"></div>
<div class="a" style="left:792.00px;top:881.40px;width:169.00px;height:50.40px;box-sizing:border-box;border:3px solid #a48f4a;border-radius:7px;background:#eee4c4;overflow:hidden;"></div>
<div class="t" style="left:276.50px;width:1200px;text-align:center;transform-origin:600px 0;top:894.73px;font-size:22.90px;line-height:22.90px;font-weight:700;-webkit-text-stroke:0.30px #57491c;color:#57491c;transform:scaleX(0.8400);">Turner, Lesley</div>
<div class="t" style="left:977.00px;transform-origin:0 0;top:894.92px;font-size:22.80px;line-height:22.80px;color:#5d6272;transform:scaleX(0.9464);">Player Hit Ball</div>
<div class="t" style="left:573.40px;width:1200px;text-align:center;transform-origin:600px 0;top:894.92px;font-size:22.80px;line-height:22.80px;color:#5d6272;transform:scaleX(0.9400);">28</div>
<div class="t" style="left:669.40px;width:1200px;text-align:center;transform-origin:600px 0;top:894.92px;font-size:22.80px;line-height:22.80px;color:#5d6272;transform:scaleX(0.9400);">4</div>
<div class="a" style="left:1321.10px;top:890.75px;width:33.00px;height:33.00px;border:2px solid #9f5a20;background:#f1e41b;border-radius:50%;box-sizing:border-box;"></div>
<div class="t" style="left:737.60px;width:1200px;text-align:center;transform-origin:600px 0;top:896.00px;font-size:22.30px;line-height:22.30px;font-weight:700;-webkit-text-stroke:0.30px #b5331f;color:#b5331f;transform:scaleX(0.8600);">2</div>
<div class="a" style="left:1360.10px;top:890.75px;width:33.00px;height:33.00px;border:2px solid #9f5a20;background:#f1e41b;border-radius:50%;box-sizing:border-box;"></div>
<div class="t" style="left:776.60px;width:1200px;text-align:center;transform-origin:600px 0;top:896.00px;font-size:22.30px;line-height:22.30px;font-weight:700;-webkit-text-stroke:0.30px #b5331f;color:#b5331f;transform:scaleX(0.8600);">2</div>
<div class="a" style="left:1399.10px;top:890.75px;width:33.00px;height:33.00px;border:2px solid #1d1d1f;background:rgba(255,255,255,.45);box-sizing:border-box;"></div>
<div class="t" style="left:815.60px;width:1200px;text-align:center;transform-origin:600px 0;top:896.00px;font-size:22.30px;line-height:22.30px;font-weight:700;-webkit-text-stroke:0.30px #111;color:#111;transform:scaleX(0.8600);">5</div>
<div class="t" style="left:864.60px;width:1200px;text-align:center;transform-origin:600px 0;top:896.00px;font-size:22.30px;line-height:22.30px;font-weight:700;-webkit-text-stroke:0.30px #3333bd;color:#3333bd;transform:scaleX(0.8600);">4</div>
<div class="a" style="left:1487.10px;top:890.75px;width:33.00px;height:33.00px;border:2px solid #c04a4b;border-radius:50%;box-sizing:border-box;"></div>
<div class="t" style="left:903.60px;width:1200px;text-align:center;transform-origin:600px 0;top:896.00px;font-size:22.30px;line-height:22.30px;font-weight:700;-webkit-text-stroke:0.30px #b3282a;color:#b3282a;transform:scaleX(0.8600);">3</div>
<div class="t" style="left:942.60px;width:1200px;text-align:center;transform-origin:600px 0;top:896.00px;font-size:22.30px;line-height:22.30px;font-weight:700;-webkit-text-stroke:0.30px #3333bd;color:#3333bd;transform:scaleX(0.8600);">4</div>
<div class="a" style="left:1575.10px;top:890.75px;width:33.00px;height:33.00px;border:2px solid #1d1d1f;background:rgba(255,255,255,.45);box-sizing:border-box;"></div>
<div class="t" style="left:991.60px;width:1200px;text-align:center;transform-origin:600px 0;top:896.00px;font-size:22.30px;line-height:22.30px;font-weight:700;-webkit-text-stroke:0.30px #111;color:#111;transform:scaleX(0.8600);">5</div>
<div class="a" style="left:1614.10px;top:890.75px;width:33.00px;height:33.00px;border:2px solid #c04a4b;border-radius:50%;box-sizing:border-box;"></div>
<div class="t" style="left:1030.60px;width:1200px;text-align:center;transform-origin:600px 0;top:896.00px;font-size:22.30px;line-height:22.30px;font-weight:700;-webkit-text-stroke:0.30px #b3282a;color:#b3282a;transform:scaleX(0.8600);">3</div>
<div class="a" style="left:1653.10px;top:890.75px;width:33.00px;height:33.00px;border:2px solid #c04a4b;border-radius:50%;box-sizing:border-box;"></div>
<div class="t" style="left:1069.60px;width:1200px;text-align:center;transform-origin:600px 0;top:896.00px;font-size:22.30px;line-height:22.30px;font-weight:700;-webkit-text-stroke:0.30px #b3282a;color:#b3282a;transform:scaleX(0.8600);">3</div>
<div class="a" style="left:1770.00px;top:890.75px;width:33.00px;height:33.00px;border:2px solid #1d1d1f;background:rgba(255,255,255,.45);box-sizing:border-box;"></div>
<div class="t" style="left:1186.50px;width:1200px;text-align:center;transform-origin:600px 0;top:896.00px;font-size:22.30px;line-height:22.30px;font-weight:700;-webkit-text-stroke:0.30px #111;color:#111;transform:scaleX(0.8600);">5</div>
<div class="a" style="left:1821.00px;top:906.00px;width:12.00px;height:2.00px;background:#6f7380;"></div>
<div class="a" style="left:1863.00px;top:906.00px;width:12.00px;height:2.00px;background:#6f7380;"></div>
<div class="a" style="left:1916.00px;top:906.00px;width:12.00px;height:2.00px;background:#6f7380;"></div>
<div class="a" style="left:1958.00px;top:906.00px;width:12.00px;height:2.00px;background:#6f7380;"></div>
<div class="a" style="left:2000.00px;top:906.00px;width:12.00px;height:2.00px;background:#6f7380;"></div>
<div class="a" style="left:2053.00px;top:906.00px;width:12.00px;height:2.00px;background:#6f7380;"></div>
<div class="a" style="left:2095.00px;top:906.00px;width:12.00px;height:2.00px;background:#6f7380;"></div>
<div class="a" style="left:2137.00px;top:906.00px;width:12.00px;height:2.00px;background:#6f7380;"></div>
<div class="t" style="left:1127.50px;width:1200px;text-align:center;transform-origin:600px 0;top:894.92px;font-size:22.80px;line-height:22.80px;color:#5d6272;transform:scaleX(0.9400);">34</div>
<div class="t" style="left:1595.80px;width:1200px;text-align:center;transform-origin:600px 0;top:894.92px;font-size:22.80px;line-height:22.80px;color:#5d6272;transform:scaleX(0.9400);">7</div>
<div class="t" style="left:1661.00px;width:1200px;text-align:center;transform-origin:600px 0;top:894.92px;font-size:22.80px;line-height:22.80px;color:#5d6272;transform:scaleX(0.9400);">41</div>
<div class="a" style="left:2333.20px;top:892.45px;width:29.60px;height:29.60px;border:3px solid #cbbd92;border-radius:5px;box-sizing:border-box;"></div>
<div class="a" style="left:2447.20px;top:892.45px;width:29.60px;height:29.60px;border:3px solid #cbbd92;border-radius:5px;box-sizing:border-box;"></div>
<div class="a" style="left:784.00px;top:961.00px;width:1745.00px;height:532.50px;border-radius:9px;background:rgba(255,255,255,0.6);"></div>
<div class="a" style="left:784.00px;top:961.00px;width:1745.00px;height:62.00px;border-radius:9px 9px 0 0;background:#fff;"></div>
<div class="a" style="left:784.00px;top:1021.50px;width:1745.00px;height:2.00px;background:#e9eaee;"></div>
<div class="a" style="left:784px;top:961px;width:27px;height:27px;border-radius:9px 0 27px 0;background:#f1e7c6;"></div>
<svg class="a" style="left:790.00px;top:965.00px;" width="10" height="19" viewBox="0 0 10 19"><path d="M5 15 L5 3 M1.5 6.5 L5 2.5 L8.5 6.5" fill="none" stroke="#6e6231" stroke-width="2"/><path d="M0.5 18 L9.5 18" stroke="#6e6231" stroke-width="2"/></svg>
<svg class="a" style="left:810.40px;top:979.00px;" width="25" height="24" viewBox="0 0 25 24"><circle cx="12.3" cy="6" r="5.8" fill="#9a9eaa"/><path d="M0 24 L0 20.5 C0 16 6 14 12.3 14 C18.6 14 24.6 16 24.6 20.5 L24.6 24 Z" fill="#9a9eaa"/></svg>
<div class="t" style="left:851.40px;transform-origin:0 0;top:981.10px;font-size:26.00px;line-height:26.00px;font-weight:700;-webkit-text-stroke:0.45px #5d6272;color:#5d6272;transform:scaleX(0.8161);">MENDEZ, EMMA</div>
<svg class="a" style="left:1036.00px;top:985.50px;" width="14" height="9" viewBox="0 0 14 9"><path d="M1.5 1.5 L7 7 L12.5 1.5" fill="none" stroke="#a48e3c" stroke-width="3" stroke-linecap="round" stroke-linejoin="round"/></svg>
<div class="t" style="left:1062.50px;transform-origin:0 0;top:981.10px;font-size:26.00px;line-height:26.00px;font-weight:700;-webkit-text-stroke:0.45px #5d6272;color:#5d6272;transform:scaleX(0.7806);">HOLE 9</div>
<svg class="a" style="left:1154.00px;top:985.50px;" width="14" height="9" viewBox="0 0 14 9"><path d="M1.5 1.5 L7 7 L12.5 1.5" fill="none" stroke="#a48e3c" stroke-width="3" stroke-linecap="round" stroke-linejoin="round"/></svg>
<div class="a" style="left:2450.30px;top:979.80px;width:22.30px;height:21.60px;border:3.2px solid #c3c1b1;border-radius:3px;box-sizing:border-box;"></div>
<svg class="a" style="left:2489.90px;top:981.20px;" width="20" height="18.4" viewBox="0 0 20 18.4"><path d="M1.6 1.6 L18.3 16.8 M18.3 1.6 L1.6 16.8" stroke="#c3c1b1" stroke-width="3.2" stroke-linecap="round"/></svg>
<div class="a" style="left:784.00px;top:1023.50px;width:1745.00px;height:53.50px;background:#fbfbfd;"></div>
<div class="a" style="left:843.50px;top:1023.50px;width:1.50px;height:53.50px;background:#f1f1f4;"></div>
<div class="a" style="left:1007.50px;top:1023.50px;width:1.50px;height:53.50px;background:#f1f1f4;"></div>
<div class="a" style="left:1138.50px;top:1023.50px;width:1.50px;height:53.50px;background:#f1f1f4;"></div>
<div class="a" style="left:1331.60px;top:1023.50px;width:1.50px;height:53.50px;background:#f1f1f4;"></div>
<div class="a" style="left:1467.50px;top:1023.50px;width:1.50px;height:53.50px;background:#f1f1f4;"></div>
<div class="a" style="left:1634.00px;top:1023.50px;width:1.50px;height:53.50px;background:#f1f1f4;"></div>
<div class="a" style="left:1732.00px;top:1023.50px;width:1.50px;height:53.50px;background:#f1f1f4;"></div>
<div class="a" style="left:1860.00px;top:1023.50px;width:1.50px;height:53.50px;background:#f1f1f4;"></div>
<div class="a" style="left:1940.00px;top:1023.50px;width:1.50px;height:53.50px;background:#f1f1f4;"></div>
<div class="a" style="left:2100.00px;top:1023.50px;width:1.50px;height:53.50px;background:#f1f1f4;"></div>
<div class="a" style="left:2244.00px;top:1023.50px;width:1.50px;height:53.50px;background:#f1f1f4;"></div>
<div class="a" style="left:2319.50px;top:1023.50px;width:1.50px;height:53.50px;background:#f1f1f4;"></div>
<div class="t" style="left:324.00px;width:1200px;text-align:center;transform-origin:600px 0;top:1037.98px;font-size:23.20px;line-height:23.20px;font-weight:700;-webkit-text-stroke:0.30px #5d6272;color:#5d6272;transform:scaleX(0.7963);">Stroke</div>
<div class="t" style="left:472.70px;width:1200px;text-align:center;transform-origin:600px 0;top:1037.98px;font-size:23.20px;line-height:23.20px;font-weight:700;-webkit-text-stroke:0.30px #5d6272;color:#5d6272;transform:scaleX(0.7882);">Accessed</div>
<div class="t" style="left:638.00px;width:1200px;text-align:center;transform-origin:600px 0;top:1037.98px;font-size:23.20px;line-height:23.20px;font-weight:700;-webkit-text-stroke:0.30px #5d6272;color:#5d6272;transform:scaleX(0.7598);">Event</div>
<div class="t" style="left:800.50px;width:1200px;text-align:center;transform-origin:600px 0;top:1037.98px;font-size:23.20px;line-height:23.20px;font-weight:700;-webkit-text-stroke:0.30px #5d6272;color:#5d6272;transform:scaleX(0.7955);">Date</div>
<div class="t" style="left:953.00px;width:1200px;text-align:center;transform-origin:600px 0;top:1037.98px;font-size:23.20px;line-height:23.20px;font-weight:700;-webkit-text-stroke:0.30px #5d6272;color:#5d6272;transform:scaleX(0.8189);">Time</div>
<div class="t" style="left:1085.30px;width:1200px;text-align:center;transform-origin:600px 0;top:1037.98px;font-size:23.20px;line-height:23.20px;font-weight:700;-webkit-text-stroke:0.30px #5d6272;color:#5d6272;transform:scaleX(0.7897);">Type</div>
<div class="t" style="left:1198.00px;width:1200px;text-align:center;transform-origin:600px 0;top:1037.98px;font-size:23.20px;line-height:23.20px;font-weight:700;-webkit-text-stroke:0.30px #5d6272;color:#5d6272;transform:scaleX(0.7883);">Location</div>
<div class="t" style="left:1301.20px;width:1200px;text-align:center;transform-origin:600px 0;top:1037.98px;font-size:23.20px;line-height:23.20px;font-weight:700;-webkit-text-stroke:0.30px #5d6272;color:#5d6272;transform:scaleX(0.7663);">Club</div>
<div class="t" style="left:1419.60px;width:1200px;text-align:center;transform-origin:600px 0;top:1037.98px;font-size:23.20px;line-height:23.20px;font-weight:700;-webkit-text-stroke:0.30px #5d6272;color:#5d6272;transform:scaleX(0.7980);">Provisional</div>
<div class="t" style="left:1570.50px;width:1200px;text-align:center;transform-origin:600px 0;top:1037.98px;font-size:23.20px;line-height:23.20px;font-weight:700;-webkit-text-stroke:0.30px #5d6272;color:#5d6272;transform:scaleX(0.7912);">P Used</div>
<div class="t" style="left:1682.20px;width:1200px;text-align:center;transform-origin:600px 0;top:1037.98px;font-size:23.20px;line-height:23.20px;font-weight:700;-webkit-text-stroke:0.30px #5d6272;color:#5d6272;transform:scaleX(0.7706);">P №</div>
<div class="t" style="left:1794.50px;width:1200px;text-align:center;transform-origin:600px 0;top:1037.98px;font-size:23.20px;line-height:23.20px;font-weight:700;-webkit-text-stroke:0.30px #5d6272;color:#5d6272;transform:scaleX(0.7914);">Holed</div>
<div class="a" style="left:0;top:0;width:2560px;height:1493.5px;overflow:hidden;">
<div class="a" style="left:784.00px;top:1077.00px;width:61.00px;height:62.50px;background:rgba(120,115,100,0.045);"></div>
<div class="a" style="left:2468.40px;top:1077.00px;width:60.60px;height:62.50px;background:rgba(120,115,100,0.045);"></div>
<div class="a" style="left:784.00px;top:1138.00px;width:1745.00px;height:2.20px;background:#fdfdfc;"></div>
<svg class="a" style="left:806.60px;top:1096.95px;" width="15" height="23" viewBox="0 0 15 23"><circle cx="3.6" cy="1.9" r="2.75" fill="#aba899"/><circle cx="3.6" cy="10" r="2.75" fill="#aba899"/><circle cx="3.6" cy="18.1" r="2.75" fill="#aba899"/><circle cx="11.5" cy="1.9" r="2.75" fill="#aba899"/><circle cx="11.5" cy="10" r="2.75" fill="#aba899"/><circle cx="11.5" cy="18.1" r="2.75" fill="#aba899"/></svg>
<svg class="a" style="left:887.30px;top:1100.65px;" width="25" height="14" viewBox="0 0 25 14"><path d="M7.9 0 L7.9 14 L0 7 Z" fill="#4c505c"/><path d="M16 0 L24 7 L16 14 Z" fill="#4d9a1c"/></svg>
<div class="t" style="left:356.70px;width:1200px;text-align:center;transform-origin:600px 0;top:1095.92px;font-size:22.80px;line-height:22.80px;color:#1f1f22;transform:scaleX(0.9400);">1</div>
<div class="t" style="left:471.80px;width:1200px;text-align:center;transform-origin:600px 0;top:1095.92px;font-size:22.80px;line-height:22.80px;color:#1f1f22;transform:scaleX(0.9400);">1</div>
<div class="t" style="left:637.70px;width:1200px;text-align:center;transform-origin:600px 0;top:1095.92px;font-size:22.80px;line-height:22.80px;color:#5d6272;transform:scaleX(0.9464);">Player Hit Ball</div>
<div class="t" style="left:802.00px;width:1200px;text-align:center;transform-origin:600px 0;top:1095.92px;font-size:22.80px;line-height:22.80px;color:#5d6272;transform:scaleX(1.0366);">09/02/25</div>
<div class="t" style="left:953.00px;width:1200px;text-align:center;transform-origin:600px 0;top:1095.92px;font-size:22.80px;line-height:22.80px;color:#5d6272;transform:scaleX(0.9631);">13:50:03.79</div>
<div class="t" style="left:1085.00px;width:1200px;text-align:center;transform-origin:600px 0;top:1095.92px;font-size:22.80px;line-height:22.80px;color:#5d6272;transform:scaleX(0.9606);">Stroke</div>
<div class="t" style="left:1197.70px;width:1200px;text-align:center;transform-origin:600px 0;top:1095.92px;font-size:22.80px;line-height:22.80px;color:#5d6272;transform:scaleX(0.9521);">Tee</div>
<div class="a" style="left:1980.50px;top:1093.45px;width:72.00px;height:29.60px;border:3px solid #cdbf93;border-radius:15px;box-sizing:border-box;"></div>
<div class="a" style="left:1987.50px;top:1098.25px;width:20.00px;height:20.00px;background:#a29672;border-radius:50%;"></div>
<div class="a" style="left:2131.30px;top:1093.45px;width:72.00px;height:29.60px;border:3px solid #cdbf93;border-radius:15px;box-sizing:border-box;"></div>
<div class="a" style="left:2138.30px;top:1098.25px;width:20.00px;height:20.00px;background:#a29672;border-radius:50%;"></div>
<div class="a" style="left:2355.50px;top:1093.45px;width:72.00px;height:29.60px;border:3px solid #cdbf93;border-radius:15px;box-sizing:border-box;"></div>
<div class="a" style="left:2362.50px;top:1098.25px;width:20.00px;height:20.00px;background:#a29672;border-radius:50%;"></div>
<div class="t" style="left:1682.40px;width:1200px;text-align:center;transform-origin:600px 0;top:1095.92px;font-size:22.80px;line-height:22.80px;color:#5d6272;transform:scaleX(0.9400);">0</div>
<svg class="a" style="left:2488.40px;top:1105.25px;" width="22" height="6" viewBox="0 0 22 6"><circle cx="3" cy="3" r="2.9" fill="#b4b1a6"/><circle cx="11" cy="3" r="2.9" fill="#b4b1a6"/><circle cx="19" cy="3" r="2.9" fill="#b4b1a6"/></svg>
<div class="a" style="left:784.00px;top:1139.50px;width:61.00px;height:62.50px;background:rgba(120,115,100,0.045);"></div>
<div class="a" style="left:2468.40px;top:1139.50px;width:60.60px;height:62.50px;background:rgba(120,115,100,0.045);"></div>
<div class="a" style="left:784.00px;top:1200.50px;width:1745.00px;height:2.20px;background:#fdfdfc;"></div>
<svg class="a" style="left:806.60px;top:1159.45px;" width="15" height="23" viewBox="0 0 15 23"><circle cx="3.6" cy="1.9" r="2.75" fill="#aba899"/><circle cx="3.6" cy="10" r="2.75" fill="#aba899"/><circle cx="3.6" cy="18.1" r="2.75" fill="#aba899"/><circle cx="11.5" cy="1.9" r="2.75" fill="#aba899"/><circle cx="11.5" cy="10" r="2.75" fill="#aba899"/><circle cx="11.5" cy="18.1" r="2.75" fill="#aba899"/></svg>
<svg class="a" style="left:887.30px;top:1163.15px;" width="25" height="14" viewBox="0 0 25 14"><path d="M7.9 0 L7.9 14 L0 7 Z" fill="#4d9a1c"/><path d="M16 0 L24 7 L16 14 Z" fill="#4c505c"/></svg>
<div class="t" style="left:356.70px;width:1200px;text-align:center;transform-origin:600px 0;top:1158.42px;font-size:22.80px;line-height:22.80px;color:#1f1f22;transform:scaleX(0.9400);">2</div>
<div class="t" style="left:471.80px;width:1200px;text-align:center;transform-origin:600px 0;top:1158.42px;font-size:22.80px;line-height:22.80px;color:#1f1f22;transform:scaleX(0.9400);">1</div>
<div class="t" style="left:637.70px;width:1200px;text-align:center;transform-origin:600px 0;top:1158.42px;font-size:22.80px;line-height:22.80px;color:#5d6272;transform:scaleX(0.9464);">Player Hit Ball</div>
<div class="t" style="left:802.00px;width:1200px;text-align:center;transform-origin:600px 0;top:1158.42px;font-size:22.80px;line-height:22.80px;color:#5d6272;transform:scaleX(1.0366);">09/02/25</div>
<div class="t" style="left:953.00px;width:1200px;text-align:center;transform-origin:600px 0;top:1158.42px;font-size:22.80px;line-height:22.80px;color:#5d6272;transform:scaleX(0.9631);">13:50:03.79</div>
<div class="t" style="left:1085.00px;width:1200px;text-align:center;transform-origin:600px 0;top:1158.42px;font-size:22.80px;line-height:22.80px;color:#5d6272;transform:scaleX(0.9606);">Stroke</div>
<div class="t" style="left:1197.70px;width:1200px;text-align:center;transform-origin:600px 0;top:1158.42px;font-size:22.80px;line-height:22.80px;color:#5d6272;transform:scaleX(0.9521);">Tee</div>
<div class="a" style="left:1980.50px;top:1155.95px;width:72.00px;height:29.60px;border:3px solid #cdbf93;border-radius:15px;box-sizing:border-box;"></div>
<div class="a" style="left:1987.50px;top:1160.75px;width:20.00px;height:20.00px;background:#a29672;border-radius:50%;"></div>
<div class="a" style="left:2131.30px;top:1155.95px;width:72.00px;height:29.60px;border:3px solid #cdbf93;border-radius:15px;box-sizing:border-box;"></div>
<div class="a" style="left:2138.30px;top:1160.75px;width:20.00px;height:20.00px;background:#a29672;border-radius:50%;"></div>
<div class="a" style="left:2355.50px;top:1155.95px;width:72.00px;height:29.60px;border:3px solid #cdbf93;border-radius:15px;box-sizing:border-box;"></div>
<div class="a" style="left:2362.50px;top:1160.75px;width:20.00px;height:20.00px;background:#a29672;border-radius:50%;"></div>
<div class="t" style="left:1682.40px;width:1200px;text-align:center;transform-origin:600px 0;top:1158.42px;font-size:22.80px;line-height:22.80px;color:#5d6272;transform:scaleX(0.9400);">0</div>
<svg class="a" style="left:2488.40px;top:1167.75px;" width="22" height="6" viewBox="0 0 22 6"><circle cx="3" cy="3" r="2.9" fill="#b4b1a6"/><circle cx="11" cy="3" r="2.9" fill="#b4b1a6"/><circle cx="19" cy="3" r="2.9" fill="#b4b1a6"/></svg>
<div class="a" style="left:784.00px;top:1202.00px;width:1745.00px;height:62.50px;background:#fff;"></div>
<div class="a" style="left:784.00px;top:1202.00px;width:61.00px;height:62.50px;background:#f8f8f8;"></div>
<div class="a" style="left:2468.40px;top:1202.00px;width:60.60px;height:62.50px;background:#f8f8f8;"></div>
<div class="a" style="left:784.00px;top:1263.00px;width:1745.00px;height:2.20px;background:#fdfdfc;"></div>
<svg class="a" style="left:806.60px;top:1221.95px;" width="15" height="23" viewBox="0 0 15 23"><circle cx="3.6" cy="1.9" r="2.75" fill="#aba899"/><circle cx="3.6" cy="10" r="2.75" fill="#aba899"/><circle cx="3.6" cy="18.1" r="2.75" fill="#aba899"/><circle cx="11.5" cy="1.9" r="2.75" fill="#aba899"/><circle cx="11.5" cy="10" r="2.75" fill="#aba899"/><circle cx="11.5" cy="18.1" r="2.75" fill="#aba899"/></svg>
<svg class="a" style="left:887.30px;top:1225.65px;" width="25" height="14" viewBox="0 0 25 14"><path d="M7.9 0 L7.9 14 L0 7 Z" fill="#4c505c"/><path d="M16 0 L24 7 L16 14 Z" fill="#4c505c"/></svg>
<div class="t" style="left:356.70px;width:1200px;text-align:center;transform-origin:600px 0;top:1220.92px;font-size:22.80px;line-height:22.80px;color:#1f1f22;transform:scaleX(0.9400);">3</div>
<div class="t" style="left:471.80px;width:1200px;text-align:center;transform-origin:600px 0;top:1220.92px;font-size:22.80px;line-height:22.80px;color:#1f1f22;transform:scaleX(0.9400);">1</div>
<div class="t" style="left:637.70px;width:1200px;text-align:center;transform-origin:600px 0;top:1220.92px;font-size:22.80px;line-height:22.80px;color:#5d6272;transform:scaleX(0.9464);">Player Hit Ball</div>
<div class="t" style="left:802.00px;width:1200px;text-align:center;transform-origin:600px 0;top:1220.92px;font-size:22.80px;line-height:22.80px;color:#5d6272;transform:scaleX(1.0366);">09/02/25</div>
<div class="t" style="left:953.00px;width:1200px;text-align:center;transform-origin:600px 0;top:1220.92px;font-size:22.80px;line-height:22.80px;color:#5d6272;transform:scaleX(0.9631);">13:50:03.79</div>
<div class="t" style="left:1085.00px;width:1200px;text-align:center;transform-origin:600px 0;top:1220.92px;font-size:22.80px;line-height:22.80px;color:#5d6272;transform:scaleX(0.9606);">Stroke</div>
<div class="t" style="left:1197.70px;width:1200px;text-align:center;transform-origin:600px 0;top:1220.92px;font-size:22.80px;line-height:22.80px;color:#5d6272;transform:scaleX(0.9521);">Tee</div>
<div class="a" style="left:1980.50px;top:1218.45px;width:72.00px;height:29.60px;border:3px solid #cdbf93;border-radius:15px;box-sizing:border-box;"></div>
<div class="a" style="left:1987.50px;top:1223.25px;width:20.00px;height:20.00px;background:#a29672;border-radius:50%;"></div>
<div class="a" style="left:2131.30px;top:1218.45px;width:72.00px;height:29.60px;border:3px solid #cdbf93;border-radius:15px;box-sizing:border-box;"></div>
<div class="a" style="left:2138.30px;top:1223.25px;width:20.00px;height:20.00px;background:#a29672;border-radius:50%;"></div>
<div class="a" style="left:2355.50px;top:1218.45px;width:72.00px;height:29.60px;border:3px solid #cdbf93;border-radius:15px;box-sizing:border-box;"></div>
<div class="a" style="left:2362.50px;top:1223.25px;width:20.00px;height:20.00px;background:#a29672;border-radius:50%;"></div>
<div class="t" style="left:1682.40px;width:1200px;text-align:center;transform-origin:600px 0;top:1220.92px;font-size:22.80px;line-height:22.80px;color:#5d6272;transform:scaleX(0.9400);">0</div>
<svg class="a" style="left:2488.40px;top:1230.25px;" width="22" height="6" viewBox="0 0 22 6"><circle cx="3" cy="3" r="2.9" fill="#b4b1a6"/><circle cx="11" cy="3" r="2.9" fill="#b4b1a6"/><circle cx="19" cy="3" r="2.9" fill="#b4b1a6"/></svg>
<div class="a" style="left:784.00px;top:1264.50px;width:61.00px;height:62.50px;background:rgba(120,115,100,0.045);"></div>
<div class="a" style="left:2468.40px;top:1264.50px;width:60.60px;height:62.50px;background:rgba(120,115,100,0.045);"></div>
<div class="a" style="left:784.00px;top:1325.50px;width:1745.00px;height:2.20px;background:#fdfdfc;"></div>
<svg class="a" style="left:806.60px;top:1284.45px;" width="15" height="23" viewBox="0 0 15 23"><circle cx="3.6" cy="1.9" r="2.75" fill="#aba899"/><circle cx="3.6" cy="10" r="2.75" fill="#aba899"/><circle cx="3.6" cy="18.1" r="2.75" fill="#aba899"/><circle cx="11.5" cy="1.9" r="2.75" fill="#aba899"/><circle cx="11.5" cy="10" r="2.75" fill="#aba899"/><circle cx="11.5" cy="18.1" r="2.75" fill="#aba899"/></svg>
<svg class="a" style="left:887.30px;top:1288.15px;" width="25" height="14" viewBox="0 0 25 14"><path d="M7.9 0 L7.9 14 L0 7 Z" fill="#4c505c"/><path d="M16 0 L24 7 L16 14 Z" fill="#4c505c"/></svg>
<div class="t" style="left:356.70px;width:1200px;text-align:center;transform-origin:600px 0;top:1283.42px;font-size:22.80px;line-height:22.80px;color:#1f1f22;transform:scaleX(0.9400);">4</div>
<div class="t" style="left:471.80px;width:1200px;text-align:center;transform-origin:600px 0;top:1283.42px;font-size:22.80px;line-height:22.80px;color:#1f1f22;transform:scaleX(0.9400);">1</div>
<div class="t" style="left:637.70px;width:1200px;text-align:center;transform-origin:600px 0;top:1283.42px;font-size:22.80px;line-height:22.80px;color:#5d6272;transform:scaleX(0.9464);">Player Hit Ball</div>
<div class="t" style="left:802.00px;width:1200px;text-align:center;transform-origin:600px 0;top:1283.42px;font-size:22.80px;line-height:22.80px;color:#5d6272;transform:scaleX(1.0366);">09/02/25</div>
<div class="t" style="left:953.00px;width:1200px;text-align:center;transform-origin:600px 0;top:1283.42px;font-size:22.80px;line-height:22.80px;color:#5d6272;transform:scaleX(0.9631);">13:50:03.79</div>
<div class="t" style="left:1085.00px;width:1200px;text-align:center;transform-origin:600px 0;top:1283.42px;font-size:22.80px;line-height:22.80px;color:#5d6272;transform:scaleX(0.9606);">Stroke</div>
<div class="t" style="left:1197.70px;width:1200px;text-align:center;transform-origin:600px 0;top:1283.42px;font-size:22.80px;line-height:22.80px;color:#5d6272;transform:scaleX(0.9521);">Tee</div>
<div class="a" style="left:1980.50px;top:1280.95px;width:72.00px;height:29.60px;border:3px solid #cdbf93;border-radius:15px;box-sizing:border-box;"></div>
<div class="a" style="left:1987.50px;top:1285.75px;width:20.00px;height:20.00px;background:#a29672;border-radius:50%;"></div>
<div class="a" style="left:2131.30px;top:1280.95px;width:72.00px;height:29.60px;border:3px solid #cdbf93;border-radius:15px;box-sizing:border-box;"></div>
<div class="a" style="left:2138.30px;top:1285.75px;width:20.00px;height:20.00px;background:#a29672;border-radius:50%;"></div>
<div class="a" style="left:2355.50px;top:1280.95px;width:72.00px;height:29.60px;border:3px solid #cdbf93;border-radius:15px;box-sizing:border-box;"></div>
<div class="a" style="left:2362.50px;top:1285.75px;width:20.00px;height:20.00px;background:#a29672;border-radius:50%;"></div>
<div class="t" style="left:1682.40px;width:1200px;text-align:center;transform-origin:600px 0;top:1283.42px;font-size:22.80px;line-height:22.80px;color:#5d6272;transform:scaleX(0.9400);">0</div>
<svg class="a" style="left:2488.40px;top:1292.75px;" width="22" height="6" viewBox="0 0 22 6"><circle cx="3" cy="3" r="2.9" fill="#b4b1a6"/><circle cx="11" cy="3" r="2.9" fill="#b4b1a6"/><circle cx="19" cy="3" r="2.9" fill="#b4b1a6"/></svg>
<div class="a" style="left:784.00px;top:1327.00px;width:61.00px;height:62.50px;background:rgba(120,115,100,0.045);"></div>
<div class="a" style="left:2468.40px;top:1327.00px;width:60.60px;height:62.50px;background:rgba(120,115,100,0.045);"></div>
<div class="a" style="left:784.00px;top:1388.00px;width:1745.00px;height:2.20px;background:#fdfdfc;"></div>
<svg class="a" style="left:806.60px;top:1346.95px;" width="15" height="23" viewBox="0 0 15 23"><circle cx="3.6" cy="1.9" r="2.75" fill="#aba899"/><circle cx="3.6" cy="10" r="2.75" fill="#aba899"/><circle cx="3.6" cy="18.1" r="2.75" fill="#aba899"/><circle cx="11.5" cy="1.9" r="2.75" fill="#aba899"/><circle cx="11.5" cy="10" r="2.75" fill="#aba899"/><circle cx="11.5" cy="18.1" r="2.75" fill="#aba899"/></svg>
<svg class="a" style="left:887.30px;top:1350.65px;" width="25" height="14" viewBox="0 0 25 14"><path d="M7.9 0 L7.9 14 L0 7 Z" fill="#4d9a1c"/><path d="M16 0 L24 7 L16 14 Z" fill="#4d9a1c"/></svg>
<div class="t" style="left:356.70px;width:1200px;text-align:center;transform-origin:600px 0;top:1345.92px;font-size:22.80px;line-height:22.80px;color:#1f1f22;transform:scaleX(0.9400);">5</div>
<div class="t" style="left:471.80px;width:1200px;text-align:center;transform-origin:600px 0;top:1345.92px;font-size:22.80px;line-height:22.80px;color:#1f1f22;transform:scaleX(0.9400);">1</div>
<div class="t" style="left:637.70px;width:1200px;text-align:center;transform-origin:600px 0;top:1345.92px;font-size:22.80px;line-height:22.80px;color:#5d6272;transform:scaleX(0.9464);">Player Hit Ball</div>
<div class="t" style="left:802.00px;width:1200px;text-align:center;transform-origin:600px 0;top:1345.92px;font-size:22.80px;line-height:22.80px;color:#5d6272;transform:scaleX(1.0366);">09/02/25</div>
<div class="t" style="left:953.00px;width:1200px;text-align:center;transform-origin:600px 0;top:1345.92px;font-size:22.80px;line-height:22.80px;color:#5d6272;transform:scaleX(0.9631);">13:50:03.79</div>
<div class="t" style="left:1085.00px;width:1200px;text-align:center;transform-origin:600px 0;top:1345.92px;font-size:22.80px;line-height:22.80px;color:#5d6272;transform:scaleX(0.9606);">Stroke</div>
<div class="t" style="left:1197.70px;width:1200px;text-align:center;transform-origin:600px 0;top:1345.92px;font-size:22.80px;line-height:22.80px;color:#5d6272;transform:scaleX(0.9521);">Tee</div>
<div class="a" style="left:1980.50px;top:1343.45px;width:72.00px;height:29.60px;border:3px solid #cdbf93;border-radius:15px;box-sizing:border-box;"></div>
<div class="a" style="left:1987.50px;top:1348.25px;width:20.00px;height:20.00px;background:#a29672;border-radius:50%;"></div>
<div class="a" style="left:2131.30px;top:1343.45px;width:72.00px;height:29.60px;border:3px solid #cdbf93;border-radius:15px;box-sizing:border-box;"></div>
<div class="a" style="left:2138.30px;top:1348.25px;width:20.00px;height:20.00px;background:#a29672;border-radius:50%;"></div>
<div class="a" style="left:2355.50px;top:1343.45px;width:72.00px;height:29.60px;border:3px solid #cdbf93;border-radius:15px;box-sizing:border-box;"></div>
<div class="a" style="left:2362.50px;top:1348.25px;width:20.00px;height:20.00px;background:#a29672;border-radius:50%;"></div>
<div class="t" style="left:1682.40px;width:1200px;text-align:center;transform-origin:600px 0;top:1345.92px;font-size:22.80px;line-height:22.80px;color:#5d6272;transform:scaleX(0.9400);">0</div>
<svg class="a" style="left:2488.40px;top:1355.25px;" width="22" height="6" viewBox="0 0 22 6"><circle cx="3" cy="3" r="2.9" fill="#b4b1a6"/><circle cx="11" cy="3" r="2.9" fill="#b4b1a6"/><circle cx="19" cy="3" r="2.9" fill="#b4b1a6"/></svg>
<div class="a" style="left:784.00px;top:1389.50px;width:61.00px;height:62.50px;background:rgba(120,115,100,0.045);"></div>
<div class="a" style="left:2468.40px;top:1389.50px;width:60.60px;height:62.50px;background:rgba(120,115,100,0.045);"></div>
<div class="a" style="left:784.00px;top:1450.50px;width:1745.00px;height:2.20px;background:#fdfdfc;"></div>
<svg class="a" style="left:806.60px;top:1409.45px;" width="15" height="23" viewBox="0 0 15 23"><circle cx="3.6" cy="1.9" r="2.75" fill="#aba899"/><circle cx="3.6" cy="10" r="2.75" fill="#aba899"/><circle cx="3.6" cy="18.1" r="2.75" fill="#aba899"/><circle cx="11.5" cy="1.9" r="2.75" fill="#aba899"/><circle cx="11.5" cy="10" r="2.75" fill="#aba899"/><circle cx="11.5" cy="18.1" r="2.75" fill="#aba899"/></svg>
<svg class="a" style="left:887.30px;top:1413.15px;" width="25" height="14" viewBox="0 0 25 14"><path d="M7.9 0 L7.9 14 L0 7 Z" fill="#4d9a1c"/><path d="M16 0 L24 7 L16 14 Z" fill="#4c505c"/></svg>
<div class="t" style="left:356.70px;width:1200px;text-align:center;transform-origin:600px 0;top:1408.42px;font-size:22.80px;line-height:22.80px;color:#1f1f22;transform:scaleX(0.9400);">6</div>
<div class="t" style="left:471.80px;width:1200px;text-align:center;transform-origin:600px 0;top:1408.42px;font-size:22.80px;line-height:22.80px;color:#1f1f22;transform:scaleX(0.9400);">1</div>
<div class="t" style="left:637.70px;width:1200px;text-align:center;transform-origin:600px 0;top:1408.42px;font-size:22.80px;line-height:22.80px;color:#5d6272;transform:scaleX(0.9464);">Player Hit Ball</div>
<div class="t" style="left:802.00px;width:1200px;text-align:center;transform-origin:600px 0;top:1408.42px;font-size:22.80px;line-height:22.80px;color:#5d6272;transform:scaleX(1.0366);">09/02/25</div>
<div class="t" style="left:953.00px;width:1200px;text-align:center;transform-origin:600px 0;top:1408.42px;font-size:22.80px;line-height:22.80px;color:#5d6272;transform:scaleX(0.9631);">13:50:03.79</div>
<div class="t" style="left:1085.00px;width:1200px;text-align:center;transform-origin:600px 0;top:1408.42px;font-size:22.80px;line-height:22.80px;color:#5d6272;transform:scaleX(0.9606);">Stroke</div>
<div class="t" style="left:1197.70px;width:1200px;text-align:center;transform-origin:600px 0;top:1408.42px;font-size:22.80px;line-height:22.80px;color:#5d6272;transform:scaleX(0.9521);">Tee</div>
<div class="a" style="left:1980.50px;top:1405.95px;width:72.00px;height:29.60px;border:3px solid #cdbf93;border-radius:15px;box-sizing:border-box;"></div>
<div class="a" style="left:1987.50px;top:1410.75px;width:20.00px;height:20.00px;background:#a29672;border-radius:50%;"></div>
<div class="a" style="left:2131.30px;top:1405.95px;width:72.00px;height:29.60px;border:3px solid #cdbf93;border-radius:15px;box-sizing:border-box;"></div>
<div class="a" style="left:2138.30px;top:1410.75px;width:20.00px;height:20.00px;background:#a29672;border-radius:50%;"></div>
<div class="a" style="left:2355.50px;top:1405.95px;width:72.00px;height:29.60px;border:3px solid #cdbf93;border-radius:15px;box-sizing:border-box;"></div>
<div class="a" style="left:2362.50px;top:1410.75px;width:20.00px;height:20.00px;background:#a29672;border-radius:50%;"></div>
<div class="t" style="left:1682.40px;width:1200px;text-align:center;transform-origin:600px 0;top:1408.42px;font-size:22.80px;line-height:22.80px;color:#5d6272;transform:scaleX(0.9400);">0</div>
<svg class="a" style="left:2488.40px;top:1417.75px;" width="22" height="6" viewBox="0 0 22 6"><circle cx="3" cy="3" r="2.9" fill="#b4b1a6"/><circle cx="11" cy="3" r="2.9" fill="#b4b1a6"/><circle cx="19" cy="3" r="2.9" fill="#b4b1a6"/></svg>
<div class="a" style="left:784.00px;top:1452.00px;width:61.00px;height:41.50px;background:rgba(120,115,100,0.045);"></div>
<div class="a" style="left:2468.40px;top:1452.00px;width:60.60px;height:41.50px;background:rgba(120,115,100,0.045);"></div>
<svg class="a" style="left:806.60px;top:1471.95px;" width="15" height="23" viewBox="0 0 15 23"><circle cx="3.6" cy="1.9" r="2.75" fill="#aba899"/><circle cx="3.6" cy="10" r="2.75" fill="#aba899"/><circle cx="3.6" cy="18.1" r="2.75" fill="#aba899"/><circle cx="11.5" cy="1.9" r="2.75" fill="#aba899"/><circle cx="11.5" cy="10" r="2.75" fill="#aba899"/><circle cx="11.5" cy="18.1" r="2.75" fill="#aba899"/></svg>
<svg class="a" style="left:887.30px;top:1475.65px;" width="25" height="14" viewBox="0 0 25 14"><path d="M7.9 0 L7.9 14 L0 7 Z" fill="#4d9a1c"/><path d="M16 0 L24 7 L16 14 Z" fill="#4d9a1c"/></svg>
<div class="t" style="left:356.70px;width:1200px;text-align:center;transform-origin:600px 0;top:1470.92px;font-size:22.80px;line-height:22.80px;color:#1f1f22;transform:scaleX(0.9400);">7</div>
<div class="t" style="left:471.80px;width:1200px;text-align:center;transform-origin:600px 0;top:1470.92px;font-size:22.80px;line-height:22.80px;color:#1f1f22;transform:scaleX(0.9400);">1</div>
<div class="t" style="left:637.70px;width:1200px;text-align:center;transform-origin:600px 0;top:1470.92px;font-size:22.80px;line-height:22.80px;color:#5d6272;transform:scaleX(0.9464);">Player Hit Ball</div>
<div class="t" style="left:802.00px;width:1200px;text-align:center;transform-origin:600px 0;top:1470.92px;font-size:22.80px;line-height:22.80px;color:#5d6272;transform:scaleX(1.0366);">09/02/25</div>
<div class="t" style="left:953.00px;width:1200px;text-align:center;transform-origin:600px 0;top:1470.92px;font-size:22.80px;line-height:22.80px;color:#5d6272;transform:scaleX(0.9631);">13:50:03.79</div>
<div class="t" style="left:1085.00px;width:1200px;text-align:center;transform-origin:600px 0;top:1470.92px;font-size:22.80px;line-height:22.80px;color:#5d6272;transform:scaleX(0.9606);">Stroke</div>
<div class="t" style="left:1197.70px;width:1200px;text-align:center;transform-origin:600px 0;top:1470.92px;font-size:22.80px;line-height:22.80px;color:#5d6272;transform:scaleX(0.9521);">Tee</div>
<div class="a" style="left:1980.50px;top:1468.45px;width:72.00px;height:29.60px;border:3px solid #cdbf93;border-radius:15px;box-sizing:border-box;"></div>
<div class="a" style="left:1987.50px;top:1473.25px;width:20.00px;height:20.00px;background:#a29672;border-radius:50%;"></div>
<div class="a" style="left:2131.30px;top:1468.45px;width:72.00px;height:29.60px;border:3px solid #cdbf93;border-radius:15px;box-sizing:border-box;"></div>
<div class="a" style="left:2138.30px;top:1473.25px;width:20.00px;height:20.00px;background:#a29672;border-radius:50%;"></div>
<div class="a" style="left:2355.50px;top:1468.45px;width:72.00px;height:29.60px;border:3px solid #cdbf93;border-radius:15px;box-sizing:border-box;"></div>
<div class="a" style="left:2362.50px;top:1473.25px;width:20.00px;height:20.00px;background:#a29672;border-radius:50%;"></div>
<div class="t" style="left:1682.40px;width:1200px;text-align:center;transform-origin:600px 0;top:1470.92px;font-size:22.80px;line-height:22.80px;color:#5d6272;transform:scaleX(0.9400);">0</div>
<svg class="a" style="left:2488.40px;top:1480.25px;" width="22" height="6" viewBox="0 0 22 6"><circle cx="3" cy="3" r="2.9" fill="#b4b1a6"/><circle cx="11" cy="3" r="2.9" fill="#b4b1a6"/><circle cx="19" cy="3" r="2.9" fill="#b4b1a6"/></svg>
<div class="a" style="left:844.50px;top:1077.00px;width:1.50px;height:62.50px;background:#c9c9c9;"></div>
<div class="a" style="left:2467.70px;top:1077.00px;width:1.50px;height:62.50px;background:#c9c9c9;"></div>
<div class="a" style="left:844.50px;top:1139.50px;width:1.50px;height:62.50px;background:#c9c9c9;"></div>
<div class="a" style="left:2467.70px;top:1139.50px;width:1.50px;height:62.50px;background:#c9c9c9;"></div>
<div class="a" style="left:844.50px;top:1264.50px;width:1.50px;height:62.50px;background:#c9c9c9;"></div>
<div class="a" style="left:2467.70px;top:1264.50px;width:1.50px;height:62.50px;background:#c9c9c9;"></div>
<div class="a" style="left:844.50px;top:1327.00px;width:1.50px;height:62.50px;background:#c9c9c9;"></div>
<div class="a" style="left:2467.70px;top:1327.00px;width:1.50px;height:62.50px;background:#c9c9c9;"></div>
<div class="a" style="left:844.50px;top:1389.50px;width:1.50px;height:62.50px;background:#c9c9c9;"></div>
<div class="a" style="left:2467.70px;top:1389.50px;width:1.50px;height:62.50px;background:#c9c9c9;"></div>
<div class="a" style="left:844.50px;top:1452.00px;width:1.50px;height:41.50px;background:#c9c9c9;"></div>
<div class="a" style="left:2467.70px;top:1452.00px;width:1.50px;height:41.50px;background:#c9c9c9;"></div>
</div>
<div class="t" style="left:26.00px;transform-origin:0 0;top:1538.85px;font-size:39.00px;line-height:39.00px;color:#a29d89;transform:scaleX(0.8565);-webkit-text-stroke:0.45px #a29d89;">ShotLink</div>
<div class="a" style="left:163.80px;top:1548.00px;width:1.50px;height:24.00px;background:#c9bd93;"></div>
<div class="t" style="left:174.00px;transform-origin:0 0;top:1546.90px;font-size:26.00px;line-height:26.00px;color:#a48b3a;transform:scaleX(0.7383);-webkit-text-stroke:0.35px #a48b3a;">Korn Ferry Tour</div>
<div class="a" style="left:315.30px;top:1548.00px;width:1.50px;height:24.00px;background:#c9bd93;"></div>
<div class="t" style="left:325.00px;transform-origin:0 0;top:1546.90px;font-size:26.00px;line-height:26.00px;color:#a48b3a;transform:scaleX(0.7586);-webkit-text-stroke:0.35px #a48b3a;">AdventHealth Championship</div>
<div class="a" style="left:592.50px;top:1543.00px;width:107.00px;height:33.00px;border:1.6px solid #b9a562;border-radius:6px;background:#f3ebd6;box-sizing:border-box;"></div>
<svg class="a" style="left:607.00px;top:1549.00px;" width="17" height="22" viewBox="0 0 17 22"><circle cx="8.5" cy="7.5" r="6.7" fill="none" stroke="#6f6432" stroke-width="1.8"/><circle cx="6.5" cy="5.6" r="0.9" fill="#6f6432"/><circle cx="10.5" cy="5.6" r="0.9" fill="#6f6432"/><circle cx="8.5" cy="8.6" r="0.9" fill="#6f6432"/><path d="M3.5 16 L13.5 16 L8.5 21 Z" fill="#6f6432"/><path d="M8.5 15 L8.5 21.5" stroke="#6f6432" stroke-width="1.8"/></svg>
<div class="t" style="left:634.00px;transform-origin:0 0;top:1548.24px;font-size:20.30px;line-height:20.30px;color:#5c4f22;transform:scaleX(0.7875);-webkit-text-stroke:0.4px #5c4f22;">Change</div>
<svg class="a" style="left:2320.50px;top:1546.50px;" width="37.4" height="37.4" viewBox="0 0 37.4 37.4"><circle cx="18.7" cy="18.7" r="8.2" fill="#c4ad6b"/><path d="M18.7 1.5 L18.7 5.8" stroke="#c4ad6b" stroke-width="2.6" transform="rotate(0 18.7 18.7)"/><path d="M18.7 1.5 L18.7 5.8" stroke="#c4ad6b" stroke-width="2.6" transform="rotate(45 18.7 18.7)"/><path d="M18.7 1.5 L18.7 5.8" stroke="#c4ad6b" stroke-width="2.6" transform="rotate(90 18.7 18.7)"/><path d="M18.7 1.5 L18.7 5.8" stroke="#c4ad6b" stroke-width="2.6" transform="rotate(135 18.7 18.7)"/><path d="M18.7 1.5 L18.7 5.8" stroke="#c4ad6b" stroke-width="2.6" transform="rotate(180 18.7 18.7)"/><path d="M18.7 1.5 L18.7 5.8" stroke="#c4ad6b" stroke-width="2.6" transform="rotate(225 18.7 18.7)"/><path d="M18.7 1.5 L18.7 5.8" stroke="#c4ad6b" stroke-width="2.6" transform="rotate(270 18.7 18.7)"/><path d="M18.7 1.5 L18.7 5.8" stroke="#c4ad6b" stroke-width="2.6" transform="rotate(315 18.7 18.7)"/></svg>
<svg class="a" style="left:2381.50px;top:1550.00px;" width="31" height="30.5" viewBox="0 0 31 30.5"><rect x="0" y="0" width="13" height="30.5" rx="2.5" fill="#c4ad6b"/><rect x="17" y="0" width="14" height="13.5" rx="2.5" fill="#c4ad6b"/><rect x="17" y="17" width="14" height="13.5" rx="2.5" fill="#c4ad6b"/></svg>
<svg class="a" style="left:2432.40px;top:1551.40px;" width="41" height="27.5" viewBox="0 0 41 27.5"><path d="M4.5 1.5 L36 1.5 M4.5 0 L4.5 23" stroke="#c4ad6b" stroke-width="3.2" fill="none"/><rect x="0" y="22.5" width="24" height="4.5" fill="#c4ad6b"/><rect x="28.5" y="7.5" width="12" height="19.5" rx="1.8" fill="none" stroke="#c4ad6b" stroke-width="3.2"/></svg>
<svg class="a" style="left:2493.40px;top:1548.30px;" width="34" height="34" viewBox="0 0 34 34"><circle cx="17" cy="17" r="17" fill="#c4ad6b"/><path d="M12 12.8 C12 9.6 14.4 7.8 17.2 7.8 C20.2 7.8 22.4 9.8 22.4 12.4 C22.4 15.6 18.4 16.3 18.4 20.5" fill="none" stroke="#f0e7d3" stroke-width="3"/><rect x="16.7" y="23.4" width="3.4" height="3.4" fill="#f0e7d3"/></svg>
</body></html>
